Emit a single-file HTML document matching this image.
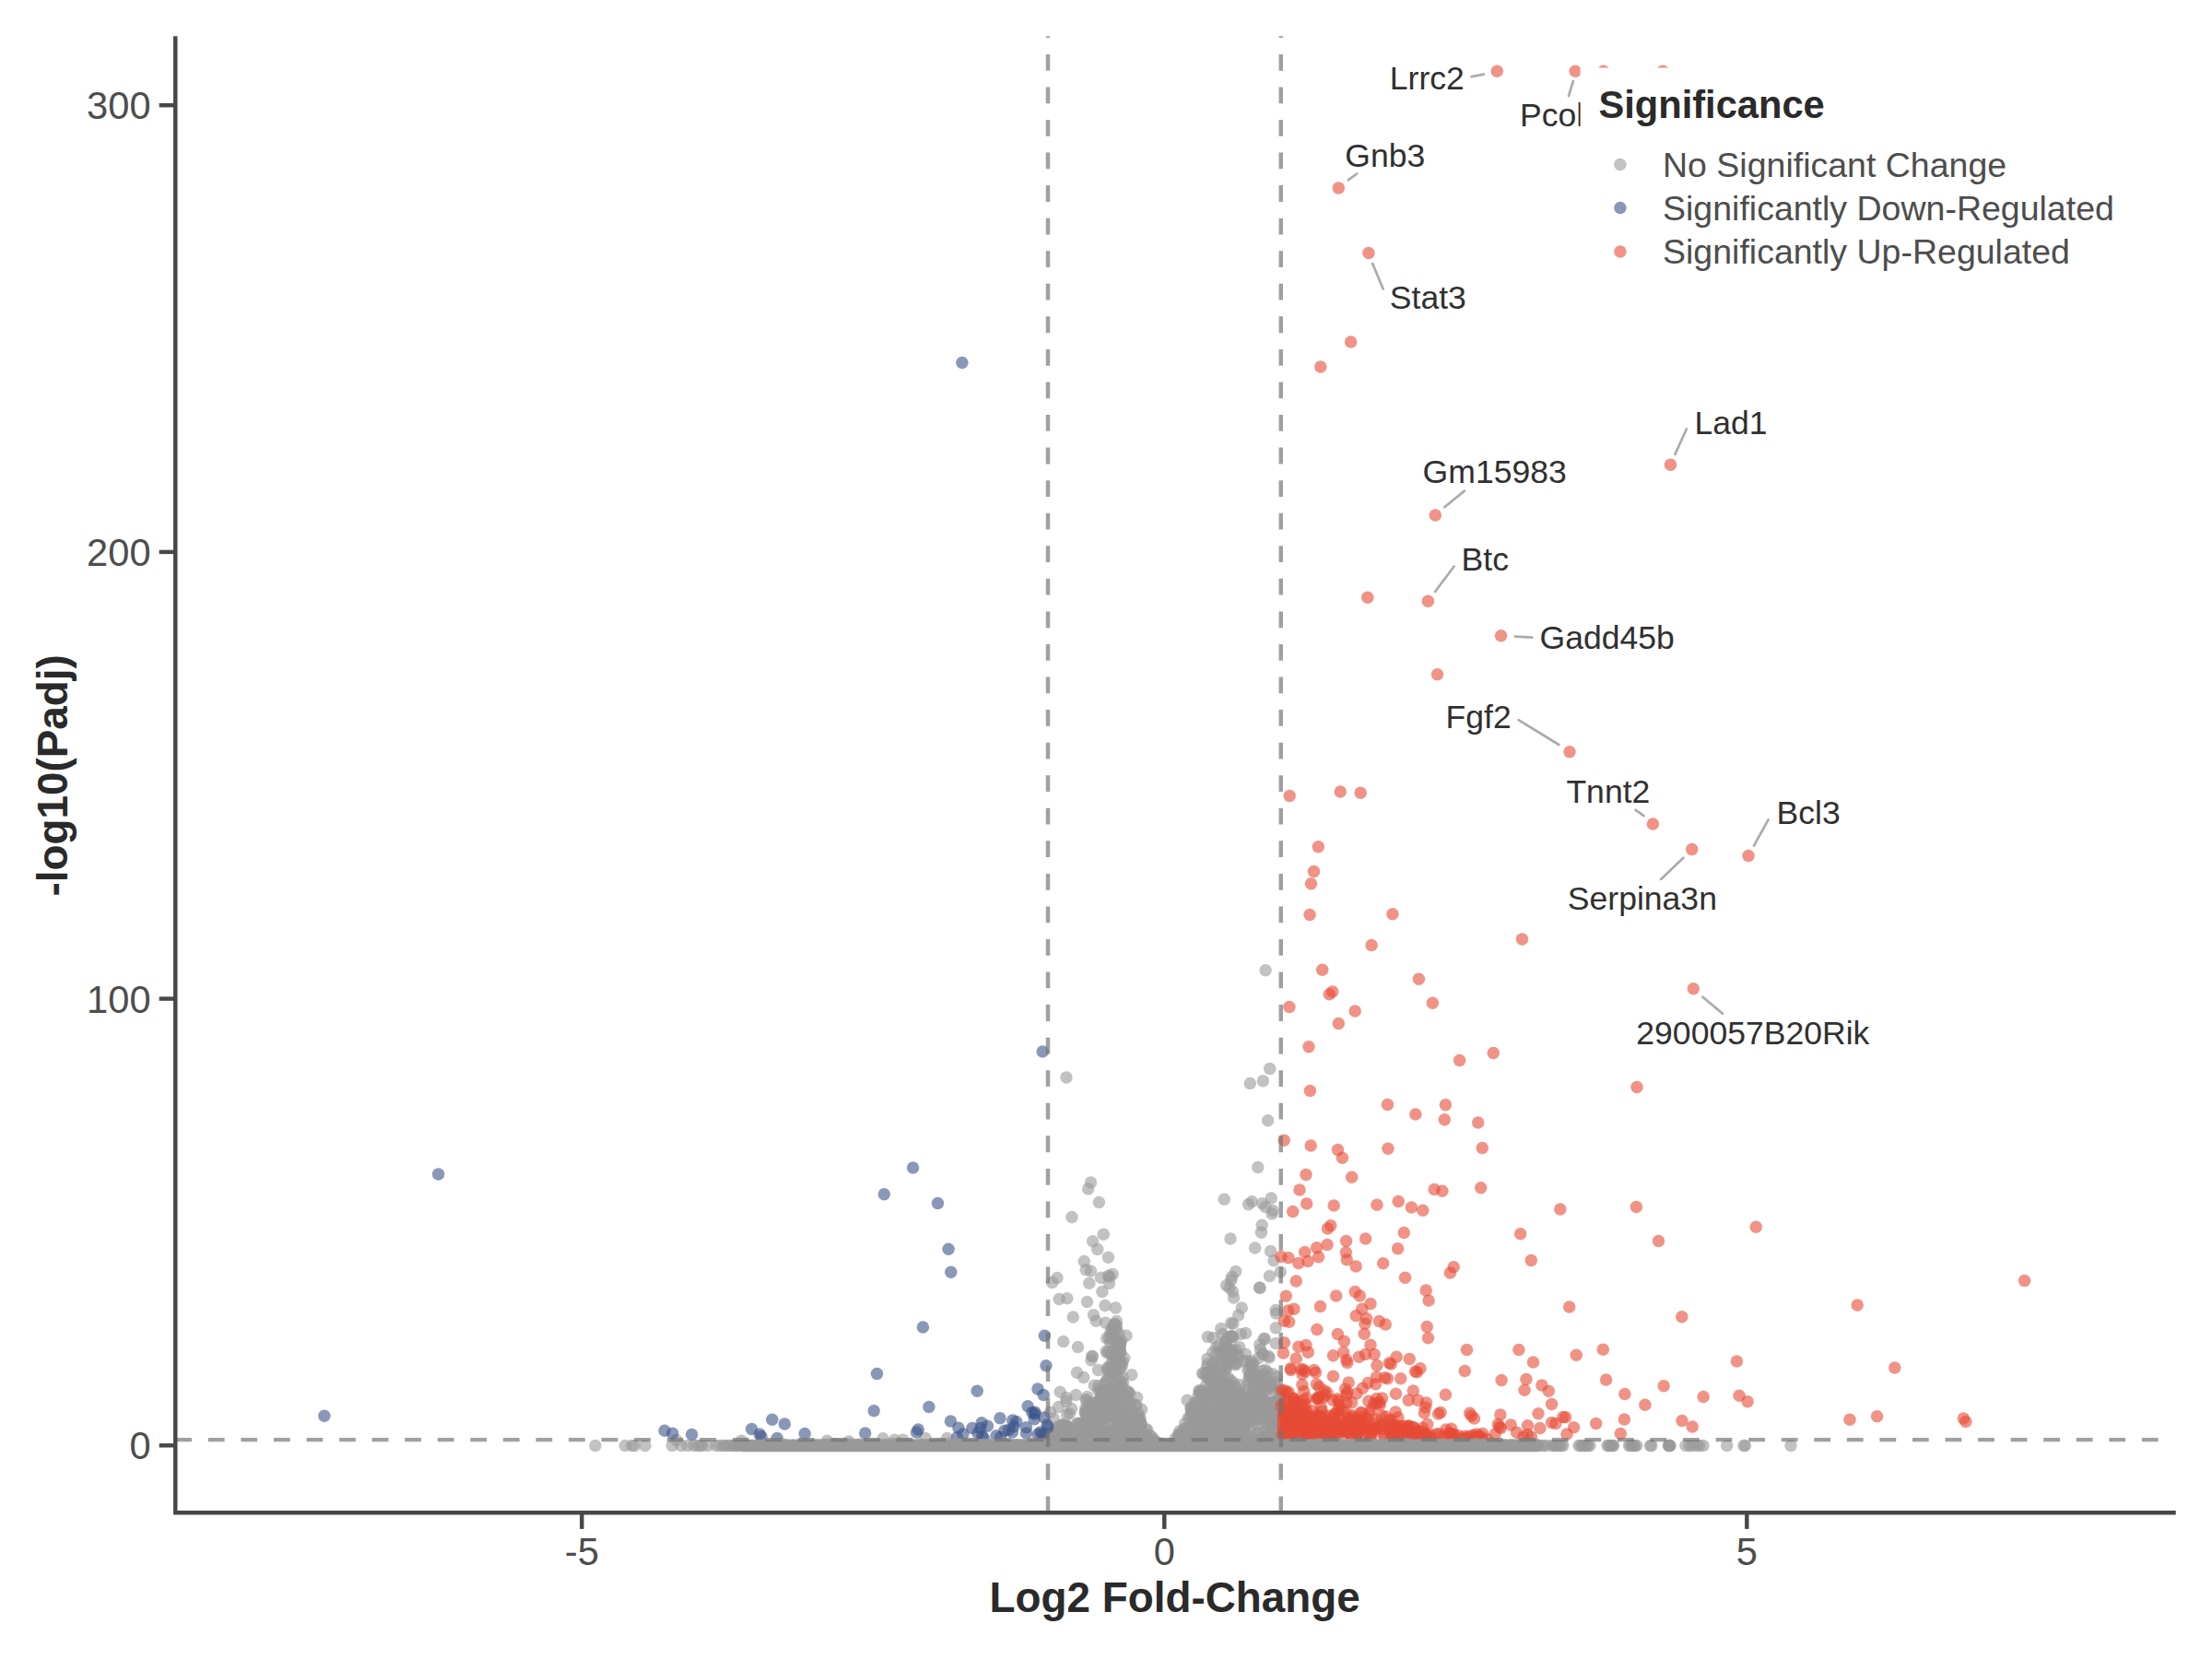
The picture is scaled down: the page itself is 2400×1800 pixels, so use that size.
<!DOCTYPE html>
<html lang="en"><head><meta charset="utf-8"><title>Volcano</title><style>
html,body{margin:0;padding:0;background:#fff}
svg{display:block}
text{font-family:"Liberation Sans",sans-serif}
circle{r:6.75px}
.g{fill:#999999;fill-opacity:.6}
.b{fill:#3C5488;fill-opacity:.6}
.r{fill:#E64B35;fill-opacity:.6}
.dl path{stroke:#737373;stroke-opacity:.68;stroke-width:4.45;stroke-dasharray:17.78 17.78;fill:none}
.seg path{stroke:#ABABAB;stroke-width:2.7;fill:none;stroke-linecap:round}
.lab text{font-size:35.57px;fill:#303030}
.lt{font-size:41.67px;font-weight:bold;fill:#2A2A2A}
.le{font-size:37.5px;fill:#4D4D4D}
.ax path{stroke:#474747;stroke-width:4.45;fill:none;stroke-linecap:butt}
.at text{font-size:41.67px;fill:#4D4D4D}
.ti{font-size:45.83px;font-weight:bold;fill:#2A2A2A}
</style></head><body><svg width="2400" height="1800" viewBox="0 0 2400 1800">
<rect width="2400" height="1800" fill="#fff"/>
<g class="g"><circle cx="1390.0" cy="1559.9" r="6.75"/><circle cx="1377.6" cy="1563.4" r="6.75"/><circle cx="1361.0" cy="1528.1" r="6.75"/><circle cx="1348.5" cy="1560.6" r="6.75"/><circle cx="1222.1" cy="1564.9" r="6.75"/><circle cx="1236.9" cy="1538.8" r="6.75"/><circle cx="1372.7" cy="1486.2" r="6.75"/><circle cx="1302.0" cy="1511.9" r="6.75"/><circle cx="1192.9" cy="1545.3" r="6.75"/><circle cx="1211.1" cy="1455.0" r="6.75"/><circle cx="645.9" cy="1568.4" r="6.75"/><circle cx="1365.6" cy="1516.9" r="6.75"/><circle cx="1189.3" cy="1433.2" r="6.75"/><circle cx="1191.3" cy="1527.0" r="6.75"/><circle cx="1343.1" cy="1528.4" r="6.75"/><circle cx="1369.8" cy="1487.4" r="6.75"/><circle cx="1217.2" cy="1547.1" r="6.75"/><circle cx="1333.8" cy="1545.2" r="6.75"/><circle cx="1317.9" cy="1510.2" r="6.75"/><circle cx="1365.2" cy="1555.2" r="6.75"/><circle cx="1232.9" cy="1547.4" r="6.75"/><circle cx="1382.0" cy="1546.1" r="6.75"/><circle cx="1334.3" cy="1524.7" r="6.75"/><circle cx="1312.6" cy="1505.8" r="6.75"/><circle cx="1237.8" cy="1546.1" r="6.75"/><circle cx="1343.6" cy="1544.1" r="6.75"/><circle cx="759.6" cy="1568.4" r="6.75"/><circle cx="1371.5" cy="1505.1" r="6.75"/><circle cx="1841.0" cy="1568.4" r="6.75"/><circle cx="1328.9" cy="1473.9" r="6.75"/><circle cx="1215.3" cy="1555.8" r="6.75"/><circle cx="1153.4" cy="1546.0" r="6.75"/><circle cx="1767.5" cy="1568.4" r="6.75"/><circle cx="1310.0" cy="1474.3" r="6.75"/><circle cx="1346.9" cy="1557.4" r="6.75"/><circle cx="1304.2" cy="1529.5" r="6.75"/><circle cx="1313.6" cy="1494.6" r="6.75"/><circle cx="1353.9" cy="1486.6" r="6.75"/><circle cx="1215.9" cy="1466.9" r="6.75"/><circle cx="1238.5" cy="1557.5" r="6.75"/><circle cx="1349.2" cy="1547.2" r="6.75"/><circle cx="1204.4" cy="1446.9" r="6.75"/><circle cx="1224.2" cy="1549.4" r="6.75"/><circle cx="1686.0" cy="1568.4" r="6.75"/><circle cx="1333.9" cy="1396.9" r="6.75"/><circle cx="1303.4" cy="1563.6" r="6.75"/><circle cx="1139.2" cy="1556.6" r="6.75"/><circle cx="1357.2" cy="1559.8" r="6.75"/><circle cx="1208.3" cy="1440.5" r="6.75"/><circle cx="1336.7" cy="1532.7" r="6.75"/><circle cx="1810.8" cy="1568.4" r="6.75"/><circle cx="1183.5" cy="1283.1" r="6.75"/><circle cx="1151.3" cy="1558.5" r="6.75"/><circle cx="1151.9" cy="1555.1" r="6.75"/><circle cx="1358.2" cy="1560.3" r="6.75"/><circle cx="1371.2" cy="1524.3" r="6.75"/><circle cx="1323.1" cy="1524.5" r="6.75"/><circle cx="1291.9" cy="1527.2" r="6.75"/><circle cx="1327.2" cy="1487.7" r="6.75"/><circle cx="1215.9" cy="1480.3" r="6.75"/><circle cx="1377.7" cy="1159.4" r="6.75"/><circle cx="1319.7" cy="1470.1" r="6.75"/><circle cx="1207.5" cy="1441.3" r="6.75"/><circle cx="1195.9" cy="1557.9" r="6.75"/><circle cx="1195.3" cy="1540.0" r="6.75"/><circle cx="1330.7" cy="1515.2" r="6.75"/><circle cx="1848.0" cy="1568.4" r="6.75"/><circle cx="1214.3" cy="1455.9" r="6.75"/><circle cx="1301.6" cy="1509.5" r="6.75"/><circle cx="1367.2" cy="1397.6" r="6.75"/><circle cx="1308.1" cy="1565.7" r="6.75"/><circle cx="1188.3" cy="1538.5" r="6.75"/><circle cx="1747.0" cy="1568.4" r="6.75"/><circle cx="1370.2" cy="1559.9" r="6.75"/><circle cx="1296.7" cy="1563.7" r="6.75"/><circle cx="1303.9" cy="1558.7" r="6.75"/><circle cx="1311.7" cy="1564.5" r="6.75"/><circle cx="1185.6" cy="1346.7" r="6.75"/><circle cx="1296.1" cy="1521.8" r="6.75"/><circle cx="1324.8" cy="1521.9" r="6.75"/><circle cx="1341.8" cy="1470.4" r="6.75"/><circle cx="1181.3" cy="1525.6" r="6.75"/><circle cx="1289.2" cy="1538.4" r="6.75"/><circle cx="1148.5" cy="1566.0" r="6.75"/><circle cx="1177.1" cy="1532.5" r="6.75"/><circle cx="1305.1" cy="1555.6" r="6.75"/><circle cx="1342.8" cy="1533.0" r="6.75"/><circle cx="1152.3" cy="1546.4" r="6.75"/><circle cx="1286.3" cy="1565.1" r="6.75"/><circle cx="1309.2" cy="1537.7" r="6.75"/><circle cx="1206.5" cy="1535.7" r="6.75"/><circle cx="1358.3" cy="1303.7" r="6.75"/><circle cx="1346.2" cy="1447.5" r="6.75"/><circle cx="1219.3" cy="1542.8" r="6.75"/><circle cx="1183.5" cy="1379.0" r="6.75"/><circle cx="1157.0" cy="1553.8" r="6.75"/><circle cx="1184.2" cy="1555.5" r="6.75"/><circle cx="1189.3" cy="1548.8" r="6.75"/><circle cx="1216.6" cy="1454.7" r="6.75"/><circle cx="1372.4" cy="1523.6" r="6.75"/><circle cx="1171.3" cy="1544.1" r="6.75"/><circle cx="1203.4" cy="1565.2" r="6.75"/><circle cx="1214.7" cy="1536.6" r="6.75"/><circle cx="1162.4" cy="1557.5" r="6.75"/><circle cx="1209.6" cy="1448.1" r="6.75"/><circle cx="1147.9" cy="1562.1" r="6.75"/><circle cx="1302.9" cy="1536.4" r="6.75"/><circle cx="1327.9" cy="1565.1" r="6.75"/><circle cx="1378.6" cy="1357.5" r="6.75"/><circle cx="1206.2" cy="1536.2" r="6.75"/><circle cx="1371.5" cy="1452.2" r="6.75"/><circle cx="1228.6" cy="1537.1" r="6.75"/><circle cx="1344.0" cy="1471.4" r="6.75"/><circle cx="1337.1" cy="1450.1" r="6.75"/><circle cx="1332.6" cy="1551.2" r="6.75"/><circle cx="1380.1" cy="1317.1" r="6.75"/><circle cx="1127.1" cy="1566.6" r="6.75"/><circle cx="1238.7" cy="1563.9" r="6.75"/><circle cx="979.7" cy="1562.3" r="6.75"/><circle cx="1208.8" cy="1517.8" r="6.75"/><circle cx="1223.5" cy="1509.6" r="6.75"/><circle cx="1205.3" cy="1480.3" r="6.75"/><circle cx="1222.0" cy="1543.5" r="6.75"/><circle cx="1334.1" cy="1464.7" r="6.75"/><circle cx="1336.5" cy="1532.1" r="6.75"/><circle cx="1178.2" cy="1377.7" r="6.75"/><circle cx="1214.6" cy="1462.1" r="6.75"/><circle cx="1366.4" cy="1512.4" r="6.75"/><circle cx="1332.3" cy="1469.8" r="6.75"/><circle cx="1177.3" cy="1563.3" r="6.75"/><circle cx="1288.7" cy="1554.9" r="6.75"/><circle cx="1303.5" cy="1533.1" r="6.75"/><circle cx="1227.2" cy="1563.6" r="6.75"/><circle cx="1359.9" cy="1495.4" r="6.75"/><circle cx="1297.6" cy="1521.7" r="6.75"/><circle cx="1343.7" cy="1426.9" r="6.75"/><circle cx="1368.5" cy="1337.2" r="6.75"/><circle cx="1328.2" cy="1537.9" r="6.75"/><circle cx="1340.8" cy="1480.8" r="6.75"/><circle cx="1169.1" cy="1544.6" r="6.75"/><circle cx="1333.8" cy="1505.0" r="6.75"/><circle cx="1168.5" cy="1489.2" r="6.75"/><circle cx="1206.5" cy="1504.2" r="6.75"/><circle cx="1178.7" cy="1534.4" r="6.75"/><circle cx="1790.5" cy="1568.4" r="6.75"/><circle cx="1318.7" cy="1515.0" r="6.75"/><circle cx="1319.0" cy="1534.4" r="6.75"/><circle cx="1191.6" cy="1486.6" r="6.75"/><circle cx="1367.8" cy="1532.2" r="6.75"/><circle cx="1373.6" cy="1564.1" r="6.75"/><circle cx="1189.3" cy="1558.8" r="6.75"/><circle cx="1322.2" cy="1555.7" r="6.75"/><circle cx="1308.8" cy="1565.7" r="6.75"/><circle cx="1211.6" cy="1475.9" r="6.75"/><circle cx="1366.1" cy="1567.6" r="6.75"/><circle cx="1385.2" cy="1555.0" r="6.75"/><circle cx="1218.0" cy="1477.3" r="6.75"/><circle cx="1352.6" cy="1539.4" r="6.75"/><circle cx="1197.5" cy="1553.7" r="6.75"/><circle cx="1337.9" cy="1436.3" r="6.75"/><circle cx="1179.5" cy="1540.5" r="6.75"/><circle cx="1381.2" cy="1529.0" r="6.75"/><circle cx="1306.3" cy="1547.9" r="6.75"/><circle cx="1217.8" cy="1542.1" r="6.75"/><circle cx="1324.2" cy="1465.3" r="6.75"/><circle cx="1203.8" cy="1561.6" r="6.75"/><circle cx="1390.2" cy="1527.0" r="6.75"/><circle cx="1368.4" cy="1508.9" r="6.75"/><circle cx="1242.4" cy="1567.2" r="6.75"/><circle cx="1346.5" cy="1566.1" r="6.75"/><circle cx="1359.3" cy="1565.2" r="6.75"/><circle cx="1278.8" cy="1559.2" r="6.75"/><circle cx="1306.7" cy="1558.9" r="6.75"/><circle cx="1226.5" cy="1523.8" r="6.75"/><circle cx="1305.9" cy="1519.8" r="6.75"/><circle cx="1217.7" cy="1532.0" r="6.75"/><circle cx="1214.8" cy="1466.1" r="6.75"/><circle cx="1357.0" cy="1529.9" r="6.75"/><circle cx="1341.1" cy="1479.1" r="6.75"/><circle cx="1185.6" cy="1528.3" r="6.75"/><circle cx="1348.4" cy="1553.6" r="6.75"/><circle cx="1375.2" cy="1503.3" r="6.75"/><circle cx="1376.4" cy="1499.9" r="6.75"/><circle cx="1208.8" cy="1437.2" r="6.75"/><circle cx="1199.0" cy="1416.6" r="6.75"/><circle cx="1335.0" cy="1344.0" r="6.75"/><circle cx="1200.1" cy="1533.7" r="6.75"/><circle cx="804.3" cy="1563.2" r="6.75"/><circle cx="1207.8" cy="1518.5" r="6.75"/><circle cx="1169.5" cy="1461.6" r="6.75"/><circle cx="1224.1" cy="1539.6" r="6.75"/><circle cx="1316.0" cy="1491.2" r="6.75"/><circle cx="1218.1" cy="1493.9" r="6.75"/><circle cx="1275.0" cy="1561.1" r="6.75"/><circle cx="1312.7" cy="1560.9" r="6.75"/><circle cx="1383.3" cy="1537.3" r="6.75"/><circle cx="1203.5" cy="1452.3" r="6.75"/><circle cx="1338.1" cy="1500.5" r="6.75"/><circle cx="1212.1" cy="1558.4" r="6.75"/><circle cx="1214.5" cy="1546.8" r="6.75"/><circle cx="1188.3" cy="1528.8" r="6.75"/><circle cx="1317.1" cy="1520.6" r="6.75"/><circle cx="1325.9" cy="1532.2" r="6.75"/><circle cx="1344.8" cy="1554.0" r="6.75"/><circle cx="1323.6" cy="1548.3" r="6.75"/><circle cx="1355.8" cy="1544.7" r="6.75"/><circle cx="1336.9" cy="1542.5" r="6.75"/><circle cx="1388.5" cy="1556.2" r="6.75"/><circle cx="1310.4" cy="1450.4" r="6.75"/><circle cx="1351.1" cy="1547.7" r="6.75"/><circle cx="1178.9" cy="1529.1" r="6.75"/><circle cx="1208.4" cy="1509.7" r="6.75"/><circle cx="1362.3" cy="1517.9" r="6.75"/><circle cx="1173.8" cy="1560.0" r="6.75"/><circle cx="1334.2" cy="1468.4" r="6.75"/><circle cx="1226.5" cy="1557.2" r="6.75"/><circle cx="1192.0" cy="1503.4" r="6.75"/><circle cx="1312.2" cy="1544.8" r="6.75"/><circle cx="1893.4" cy="1568.4" r="6.75"/><circle cx="1321.2" cy="1510.6" r="6.75"/><circle cx="1372.3" cy="1519.5" r="6.75"/><circle cx="1353.5" cy="1508.2" r="6.75"/><circle cx="1174.2" cy="1556.0" r="6.75"/><circle cx="1377.0" cy="1556.0" r="6.75"/><circle cx="1774.0" cy="1568.4" r="6.75"/><circle cx="1292.9" cy="1532.8" r="6.75"/><circle cx="1330.1" cy="1461.7" r="6.75"/><circle cx="1134.3" cy="1559.2" r="6.75"/><circle cx="1191.1" cy="1562.8" r="6.75"/><circle cx="1134.1" cy="1563.0" r="6.75"/><circle cx="1358.9" cy="1485.8" r="6.75"/><circle cx="1165.7" cy="1558.9" r="6.75"/><circle cx="1161.8" cy="1567.4" r="6.75"/><circle cx="1332.6" cy="1495.1" r="6.75"/><circle cx="1147.5" cy="1558.7" r="6.75"/><circle cx="1306.8" cy="1513.9" r="6.75"/><circle cx="1375.2" cy="1488.8" r="6.75"/><circle cx="1146.3" cy="1555.8" r="6.75"/><circle cx="1224.9" cy="1545.0" r="6.75"/><circle cx="1215.2" cy="1460.5" r="6.75"/><circle cx="1330.4" cy="1485.2" r="6.75"/><circle cx="1323.4" cy="1520.7" r="6.75"/><circle cx="1306.6" cy="1533.7" r="6.75"/><circle cx="1725.0" cy="1568.4" r="6.75"/><circle cx="1187.2" cy="1528.2" r="6.75"/><circle cx="1177.7" cy="1532.2" r="6.75"/><circle cx="1306.8" cy="1526.8" r="6.75"/><circle cx="1230.0" cy="1534.1" r="6.75"/><circle cx="897.4" cy="1563.2" r="6.75"/><circle cx="1282.8" cy="1567.4" r="6.75"/><circle cx="1154.8" cy="1564.9" r="6.75"/><circle cx="1144.8" cy="1561.1" r="6.75"/><circle cx="1205.7" cy="1452.3" r="6.75"/><circle cx="1371.5" cy="1529.4" r="6.75"/><circle cx="1336.4" cy="1527.5" r="6.75"/><circle cx="1352.5" cy="1541.5" r="6.75"/><circle cx="1212.3" cy="1466.8" r="6.75"/><circle cx="1309.0" cy="1489.6" r="6.75"/><circle cx="1330.6" cy="1565.1" r="6.75"/><circle cx="1306.0" cy="1554.0" r="6.75"/><circle cx="1167.4" cy="1513.4" r="6.75"/><circle cx="1214.1" cy="1447.1" r="6.75"/><circle cx="1334.8" cy="1503.8" r="6.75"/><circle cx="1226.0" cy="1566.3" r="6.75"/><circle cx="1715.0" cy="1568.4" r="6.75"/><circle cx="1310.1" cy="1547.3" r="6.75"/><circle cx="1206.7" cy="1506.9" r="6.75"/><circle cx="1236.5" cy="1538.9" r="6.75"/><circle cx="1148.4" cy="1553.1" r="6.75"/><circle cx="1351.2" cy="1544.0" r="6.75"/><circle cx="1128.4" cy="1567.0" r="6.75"/><circle cx="1168.5" cy="1544.9" r="6.75"/><circle cx="1210.4" cy="1419.0" r="6.75"/><circle cx="1281.6" cy="1565.5" r="6.75"/><circle cx="1153.8" cy="1558.5" r="6.75"/><circle cx="1205.9" cy="1441.3" r="6.75"/><circle cx="1213.9" cy="1493.9" r="6.75"/><circle cx="1210.6" cy="1551.4" r="6.75"/><circle cx="1244.0" cy="1565.3" r="6.75"/><circle cx="1212.7" cy="1460.3" r="6.75"/><circle cx="1312.1" cy="1541.9" r="6.75"/><circle cx="1342.0" cy="1507.2" r="6.75"/><circle cx="1390.7" cy="1512.7" r="6.75"/><circle cx="1334.2" cy="1549.9" r="6.75"/><circle cx="1303.0" cy="1553.8" r="6.75"/><circle cx="1385.2" cy="1559.5" r="6.75"/><circle cx="1297.9" cy="1526.0" r="6.75"/><circle cx="1349.1" cy="1512.3" r="6.75"/><circle cx="1336.8" cy="1385.3" r="6.75"/><circle cx="1383.3" cy="1520.9" r="6.75"/><circle cx="1223.1" cy="1555.0" r="6.75"/><circle cx="1326.3" cy="1447.5" r="6.75"/><circle cx="1692.0" cy="1568.4" r="6.75"/><circle cx="1357.8" cy="1476.7" r="6.75"/><circle cx="1238.6" cy="1553.1" r="6.75"/><circle cx="1183.3" cy="1540.3" r="6.75"/><circle cx="1204.9" cy="1562.8" r="6.75"/><circle cx="1355.0" cy="1557.4" r="6.75"/><circle cx="1331.3" cy="1553.2" r="6.75"/><circle cx="1326.2" cy="1484.4" r="6.75"/><circle cx="1388.4" cy="1553.0" r="6.75"/><circle cx="1386.0" cy="1553.6" r="6.75"/><circle cx="688.5" cy="1568.4" r="6.75"/><circle cx="1279.1" cy="1558.0" r="6.75"/><circle cx="1721.0" cy="1568.4" r="6.75"/><circle cx="1335.7" cy="1498.0" r="6.75"/><circle cx="1236.1" cy="1549.8" r="6.75"/><circle cx="1244.7" cy="1551.1" r="6.75"/><circle cx="1388.5" cy="1531.4" r="6.75"/><circle cx="1199.0" cy="1565.2" r="6.75"/><circle cx="1390.5" cy="1543.4" r="6.75"/><circle cx="1194.5" cy="1386.2" r="6.75"/><circle cx="1349.3" cy="1522.6" r="6.75"/><circle cx="1344.8" cy="1461.7" r="6.75"/><circle cx="1229.7" cy="1541.9" r="6.75"/><circle cx="1363.7" cy="1529.6" r="6.75"/><circle cx="685.8" cy="1568.4" r="6.75"/><circle cx="1211.5" cy="1540.6" r="6.75"/><circle cx="1355.9" cy="1492.5" r="6.75"/><circle cx="1172.5" cy="1544.9" r="6.75"/><circle cx="1210.7" cy="1460.1" r="6.75"/><circle cx="1378.0" cy="1504.5" r="6.75"/><circle cx="1368.3" cy="1560.6" r="6.75"/><circle cx="1354.2" cy="1535.8" r="6.75"/><circle cx="1338.6" cy="1408.1" r="6.75"/><circle cx="1385.7" cy="1493.9" r="6.75"/><circle cx="1197.2" cy="1552.5" r="6.75"/><circle cx="1238.4" cy="1564.6" r="6.75"/><circle cx="1196.1" cy="1520.5" r="6.75"/><circle cx="1892.0" cy="1568.4" r="6.75"/><circle cx="1350.5" cy="1520.7" r="6.75"/><circle cx="1343.5" cy="1520.8" r="6.75"/><circle cx="1297.5" cy="1542.4" r="6.75"/><circle cx="1234.7" cy="1539.5" r="6.75"/><circle cx="1292.9" cy="1526.7" r="6.75"/><circle cx="1372.9" cy="1309.4" r="6.75"/><circle cx="1330.6" cy="1394.7" r="6.75"/><circle cx="1301.7" cy="1551.1" r="6.75"/><circle cx="1330.7" cy="1483.8" r="6.75"/><circle cx="1208.2" cy="1489.4" r="6.75"/><circle cx="1321.2" cy="1561.1" r="6.75"/><circle cx="1378.0" cy="1501.3" r="6.75"/><circle cx="1201.1" cy="1566.4" r="6.75"/><circle cx="1315.0" cy="1544.3" r="6.75"/><circle cx="1222.0" cy="1449.3" r="6.75"/><circle cx="1313.6" cy="1518.2" r="6.75"/><circle cx="1213.8" cy="1485.5" r="6.75"/><circle cx="1343.9" cy="1539.3" r="6.75"/><circle cx="1223.9" cy="1557.3" r="6.75"/><circle cx="1315.7" cy="1552.2" r="6.75"/><circle cx="1200.7" cy="1522.5" r="6.75"/><circle cx="1195.0" cy="1517.0" r="6.75"/><circle cx="1323.9" cy="1519.8" r="6.75"/><circle cx="1317.8" cy="1477.7" r="6.75"/><circle cx="1355.6" cy="1541.4" r="6.75"/><circle cx="1310.4" cy="1480.3" r="6.75"/><circle cx="1366.4" cy="1396.9" r="6.75"/><circle cx="1337.1" cy="1524.6" r="6.75"/><circle cx="1376.4" cy="1507.4" r="6.75"/><circle cx="1285.3" cy="1554.1" r="6.75"/><circle cx="1211.0" cy="1539.4" r="6.75"/><circle cx="1197.3" cy="1339.2" r="6.75"/><circle cx="1322.1" cy="1520.9" r="6.75"/><circle cx="1361.8" cy="1515.6" r="6.75"/><circle cx="1235.3" cy="1533.6" r="6.75"/><circle cx="1153.3" cy="1567.2" r="6.75"/><circle cx="1367.5" cy="1464.2" r="6.75"/><circle cx="1195.4" cy="1562.9" r="6.75"/><circle cx="1375.5" cy="1544.6" r="6.75"/><circle cx="1381.4" cy="1491.0" r="6.75"/><circle cx="1300.0" cy="1514.4" r="6.75"/><circle cx="1326.1" cy="1556.8" r="6.75"/><circle cx="1354.6" cy="1306.7" r="6.75"/><circle cx="1348.1" cy="1477.1" r="6.75"/><circle cx="1208.2" cy="1551.1" r="6.75"/><circle cx="1184.1" cy="1559.2" r="6.75"/><circle cx="1328.5" cy="1492.9" r="6.75"/><circle cx="1178.2" cy="1518.8" r="6.75"/><circle cx="1344.9" cy="1512.0" r="6.75"/><circle cx="1230.0" cy="1551.0" r="6.75"/><circle cx="1833.0" cy="1568.4" r="6.75"/><circle cx="1309.6" cy="1512.5" r="6.75"/><circle cx="1177.8" cy="1527.9" r="6.75"/><circle cx="1232.2" cy="1541.5" r="6.75"/><circle cx="1209.1" cy="1451.3" r="6.75"/><circle cx="1218.6" cy="1500.5" r="6.75"/><circle cx="1280.3" cy="1558.7" r="6.75"/><circle cx="1356.5" cy="1566.7" r="6.75"/><circle cx="1330.5" cy="1454.7" r="6.75"/><circle cx="1299.1" cy="1559.0" r="6.75"/><circle cx="1150.5" cy="1563.2" r="6.75"/><circle cx="1163.0" cy="1320.6" r="6.75"/><circle cx="1332.4" cy="1518.0" r="6.75"/><circle cx="1229.9" cy="1554.4" r="6.75"/><circle cx="1285.7" cy="1544.4" r="6.75"/><circle cx="1347.8" cy="1519.2" r="6.75"/><circle cx="1179.5" cy="1535.6" r="6.75"/><circle cx="1355.5" cy="1493.8" r="6.75"/><circle cx="1304.8" cy="1558.7" r="6.75"/><circle cx="1344.6" cy="1518.4" r="6.75"/><circle cx="1155.1" cy="1564.6" r="6.75"/><circle cx="1185.8" cy="1555.9" r="6.75"/><circle cx="1343.6" cy="1514.3" r="6.75"/><circle cx="1370.3" cy="1542.8" r="6.75"/><circle cx="1829.0" cy="1568.4" r="6.75"/><circle cx="1295.4" cy="1557.7" r="6.75"/><circle cx="1343.8" cy="1512.3" r="6.75"/><circle cx="1690.0" cy="1568.4" r="6.75"/><circle cx="1207.7" cy="1481.4" r="6.75"/><circle cx="1192.0" cy="1543.5" r="6.75"/><circle cx="1315.5" cy="1482.9" r="6.75"/><circle cx="1302.8" cy="1511.2" r="6.75"/><circle cx="1215.7" cy="1513.5" r="6.75"/><circle cx="1310.7" cy="1511.2" r="6.75"/><circle cx="1232.2" cy="1524.8" r="6.75"/><circle cx="1336.4" cy="1450.4" r="6.75"/><circle cx="1313.9" cy="1493.5" r="6.75"/><circle cx="1333.3" cy="1525.0" r="6.75"/><circle cx="1372.8" cy="1520.3" r="6.75"/><circle cx="1243.5" cy="1556.7" r="6.75"/><circle cx="1318.2" cy="1542.4" r="6.75"/><circle cx="1333.7" cy="1529.1" r="6.75"/><circle cx="1227.5" cy="1542.7" r="6.75"/><circle cx="1250.1" cy="1566.8" r="6.75"/><circle cx="1199.2" cy="1501.1" r="6.75"/><circle cx="1204.7" cy="1456.2" r="6.75"/><circle cx="1206.0" cy="1488.4" r="6.75"/><circle cx="1347.7" cy="1523.5" r="6.75"/><circle cx="1347.1" cy="1525.4" r="6.75"/><circle cx="1378.8" cy="1547.7" r="6.75"/><circle cx="1350.0" cy="1539.3" r="6.75"/><circle cx="746.0" cy="1568.4" r="6.75"/><circle cx="1374.2" cy="1493.9" r="6.75"/><circle cx="1384.6" cy="1499.9" r="6.75"/><circle cx="1717.0" cy="1568.4" r="6.75"/><circle cx="1675.0" cy="1568.4" r="6.75"/><circle cx="1379.3" cy="1300.1" r="6.75"/><circle cx="1372.1" cy="1508.8" r="6.75"/><circle cx="1384.2" cy="1457.6" r="6.75"/><circle cx="1210.5" cy="1483.0" r="6.75"/><circle cx="1321.6" cy="1533.5" r="6.75"/><circle cx="1388.8" cy="1517.0" r="6.75"/><circle cx="1302.4" cy="1544.7" r="6.75"/><circle cx="1389.6" cy="1528.5" r="6.75"/><circle cx="1366.8" cy="1529.0" r="6.75"/><circle cx="1251.0" cy="1562.2" r="6.75"/><circle cx="1303.8" cy="1535.0" r="6.75"/><circle cx="1202.5" cy="1384.2" r="6.75"/><circle cx="1191.6" cy="1543.2" r="6.75"/><circle cx="1320.8" cy="1527.7" r="6.75"/><circle cx="1180.6" cy="1290.0" r="6.75"/><circle cx="1231.4" cy="1539.9" r="6.75"/><circle cx="1220.8" cy="1552.5" r="6.75"/><circle cx="1307.5" cy="1529.1" r="6.75"/><circle cx="1234.5" cy="1534.5" r="6.75"/><circle cx="1222.0" cy="1530.7" r="6.75"/><circle cx="1291.4" cy="1538.2" r="6.75"/><circle cx="1224.3" cy="1511.6" r="6.75"/><circle cx="1313.7" cy="1543.6" r="6.75"/><circle cx="678.2" cy="1568.4" r="6.75"/><circle cx="1386.1" cy="1502.1" r="6.75"/><circle cx="1378.5" cy="1504.7" r="6.75"/><circle cx="1365.5" cy="1540.0" r="6.75"/><circle cx="1355.1" cy="1519.1" r="6.75"/><circle cx="1181.8" cy="1392.3" r="6.75"/><circle cx="1351.5" cy="1526.2" r="6.75"/><circle cx="1192.4" cy="1304.6" r="6.75"/><circle cx="1325.6" cy="1524.7" r="6.75"/><circle cx="1381.1" cy="1313.4" r="6.75"/><circle cx="1295.6" cy="1544.8" r="6.75"/><circle cx="1371.1" cy="1491.8" r="6.75"/><circle cx="1369.4" cy="1496.9" r="6.75"/><circle cx="1369.6" cy="1305.7" r="6.75"/><circle cx="1383.4" cy="1555.8" r="6.75"/><circle cx="1314.0" cy="1558.6" r="6.75"/><circle cx="1156.9" cy="1520.6" r="6.75"/><circle cx="1221.7" cy="1558.5" r="6.75"/><circle cx="1196.9" cy="1560.3" r="6.75"/><circle cx="1150.2" cy="1546.9" r="6.75"/><circle cx="1342.3" cy="1550.0" r="6.75"/><circle cx="1374.5" cy="1565.5" r="6.75"/><circle cx="1186.2" cy="1530.7" r="6.75"/><circle cx="1200.4" cy="1465.9" r="6.75"/><circle cx="1200.3" cy="1537.3" r="6.75"/><circle cx="1744.0" cy="1568.4" r="6.75"/><circle cx="1341.0" cy="1511.9" r="6.75"/><circle cx="1236.8" cy="1564.5" r="6.75"/><circle cx="1219.8" cy="1473.6" r="6.75"/><circle cx="1303.3" cy="1546.9" r="6.75"/><circle cx="1184.7" cy="1471.4" r="6.75"/><circle cx="1292.2" cy="1559.4" r="6.75"/><circle cx="1224.3" cy="1566.7" r="6.75"/><circle cx="1182.6" cy="1563.7" r="6.75"/><circle cx="1149.8" cy="1558.0" r="6.75"/><circle cx="1288.1" cy="1519.2" r="6.75"/><circle cx="1227.8" cy="1491.7" r="6.75"/><circle cx="1696.0" cy="1568.4" r="6.75"/><circle cx="739.2" cy="1568.4" r="6.75"/><circle cx="1360.1" cy="1566.5" r="6.75"/><circle cx="1324.2" cy="1501.1" r="6.75"/><circle cx="1209.7" cy="1436.6" r="6.75"/><circle cx="1341.0" cy="1536.6" r="6.75"/><circle cx="1200.7" cy="1452.0" r="6.75"/><circle cx="1383.0" cy="1538.0" r="6.75"/><circle cx="1321.6" cy="1545.2" r="6.75"/><circle cx="1217.4" cy="1541.6" r="6.75"/><circle cx="1241.3" cy="1558.8" r="6.75"/><circle cx="1342.8" cy="1524.9" r="6.75"/><circle cx="1331.3" cy="1552.3" r="6.75"/><circle cx="1179.5" cy="1412.4" r="6.75"/><circle cx="1171.5" cy="1564.3" r="6.75"/><circle cx="1376.9" cy="1531.0" r="6.75"/><circle cx="1299.0" cy="1566.9" r="6.75"/><circle cx="1193.3" cy="1542.2" r="6.75"/><circle cx="1152.5" cy="1545.8" r="6.75"/><circle cx="1213.4" cy="1476.0" r="6.75"/><circle cx="1330.3" cy="1462.7" r="6.75"/><circle cx="1288.1" cy="1549.5" r="6.75"/><circle cx="1312.6" cy="1563.6" r="6.75"/><circle cx="1205.8" cy="1469.4" r="6.75"/><circle cx="1329.7" cy="1537.1" r="6.75"/><circle cx="1382.0" cy="1367.7" r="6.75"/><circle cx="1315.8" cy="1502.1" r="6.75"/><circle cx="1193.7" cy="1534.0" r="6.75"/><circle cx="1943.0" cy="1568.4" r="6.75"/><circle cx="1260.0" cy="1566.6" r="6.75"/><circle cx="1201.4" cy="1496.0" r="6.75"/><circle cx="1157.6" cy="1535.1" r="6.75"/><circle cx="1214.3" cy="1561.3" r="6.75"/><circle cx="1221.0" cy="1527.6" r="6.75"/><circle cx="1338.0" cy="1513.9" r="6.75"/><circle cx="1355.6" cy="1485.6" r="6.75"/><circle cx="1344.8" cy="1502.4" r="6.75"/><circle cx="1321.7" cy="1501.4" r="6.75"/><circle cx="1243.3" cy="1559.6" r="6.75"/><circle cx="1379.8" cy="1559.2" r="6.75"/><circle cx="1149.1" cy="1565.1" r="6.75"/><circle cx="1209.5" cy="1470.5" r="6.75"/><circle cx="1322.1" cy="1553.5" r="6.75"/><circle cx="1380.5" cy="1525.3" r="6.75"/><circle cx="1278.2" cy="1557.1" r="6.75"/><circle cx="1304.4" cy="1508.9" r="6.75"/><circle cx="1279.6" cy="1566.4" r="6.75"/><circle cx="1233.6" cy="1516.3" r="6.75"/><circle cx="1314.6" cy="1486.3" r="6.75"/><circle cx="1164.3" cy="1429.1" r="6.75"/><circle cx="1191.4" cy="1525.5" r="6.75"/><circle cx="1384.2" cy="1440.7" r="6.75"/><circle cx="1230.8" cy="1537.7" r="6.75"/><circle cx="1362.0" cy="1490.9" r="6.75"/><circle cx="1323.2" cy="1479.3" r="6.75"/><circle cx="1199.5" cy="1557.3" r="6.75"/><circle cx="1372.2" cy="1452.9" r="6.75"/><circle cx="1332.7" cy="1567.5" r="6.75"/><circle cx="1202.2" cy="1496.0" r="6.75"/><circle cx="1334.9" cy="1527.4" r="6.75"/><circle cx="1185.8" cy="1557.9" r="6.75"/><circle cx="1376.2" cy="1471.4" r="6.75"/><circle cx="1215.8" cy="1477.9" r="6.75"/><circle cx="1365.5" cy="1473.6" r="6.75"/><circle cx="1146.6" cy="1549.7" r="6.75"/><circle cx="1326.1" cy="1499.3" r="6.75"/><circle cx="1214.5" cy="1503.7" r="6.75"/><circle cx="1353.1" cy="1567.6" r="6.75"/><circle cx="970.7" cy="1562.3" r="6.75"/><circle cx="1389.2" cy="1379.9" r="6.75"/><circle cx="1361.7" cy="1353.9" r="6.75"/><circle cx="1379.3" cy="1502.6" r="6.75"/><circle cx="1195.9" cy="1401.4" r="6.75"/><circle cx="1233.1" cy="1524.8" r="6.75"/><circle cx="1238.6" cy="1529.3" r="6.75"/><circle cx="1336.7" cy="1540.6" r="6.75"/><circle cx="1201.5" cy="1468.0" r="6.75"/><circle cx="1325.8" cy="1534.8" r="6.75"/><circle cx="1210.1" cy="1491.4" r="6.75"/><circle cx="1183.8" cy="1561.7" r="6.75"/><circle cx="1324.7" cy="1497.7" r="6.75"/><circle cx="1202.5" cy="1364.3" r="6.75"/><circle cx="1363.0" cy="1526.3" r="6.75"/><circle cx="1387.1" cy="1529.7" r="6.75"/><circle cx="1377.5" cy="1384.4" r="6.75"/><circle cx="1368.2" cy="1521.7" r="6.75"/><circle cx="1196.6" cy="1539.4" r="6.75"/><circle cx="1217.3" cy="1538.8" r="6.75"/><circle cx="1386.0" cy="1555.9" r="6.75"/><circle cx="1329.8" cy="1457.3" r="6.75"/><circle cx="1305.0" cy="1564.7" r="6.75"/><circle cx="1316.1" cy="1487.1" r="6.75"/><circle cx="699.9" cy="1568.4" r="6.75"/><circle cx="1189.8" cy="1565.6" r="6.75"/><circle cx="1222.1" cy="1552.1" r="6.75"/><circle cx="1207.9" cy="1466.0" r="6.75"/><circle cx="1211.5" cy="1438.6" r="6.75"/><circle cx="1354.4" cy="1502.6" r="6.75"/><circle cx="1218.2" cy="1551.9" r="6.75"/><circle cx="1383.9" cy="1529.0" r="6.75"/><circle cx="1169.0" cy="1558.7" r="6.75"/><circle cx="1209.4" cy="1546.6" r="6.75"/><circle cx="1337.9" cy="1451.1" r="6.75"/><circle cx="1218.8" cy="1562.1" r="6.75"/><circle cx="1688.0" cy="1568.4" r="6.75"/><circle cx="1225.8" cy="1561.5" r="6.75"/><circle cx="1320.7" cy="1561.3" r="6.75"/><circle cx="1196.5" cy="1552.0" r="6.75"/><circle cx="1349.7" cy="1516.8" r="6.75"/><circle cx="1873.7" cy="1568.4" r="6.75"/><circle cx="1315.1" cy="1496.8" r="6.75"/><circle cx="1294.3" cy="1552.9" r="6.75"/><circle cx="1280.4" cy="1555.2" r="6.75"/><circle cx="1376.2" cy="1521.8" r="6.75"/><circle cx="1297.3" cy="1567.2" r="6.75"/><circle cx="1223.7" cy="1563.0" r="6.75"/><circle cx="1375.9" cy="1564.8" r="6.75"/><circle cx="1347.0" cy="1562.5" r="6.75"/><circle cx="1329.3" cy="1510.1" r="6.75"/><circle cx="1333.3" cy="1530.2" r="6.75"/><circle cx="1261.6" cy="1566.6" r="6.75"/><circle cx="1340.6" cy="1504.6" r="6.75"/><circle cx="1181.9" cy="1550.9" r="6.75"/><circle cx="1244.1" cy="1558.3" r="6.75"/><circle cx="1333.2" cy="1550.6" r="6.75"/><circle cx="1158.6" cy="1547.6" r="6.75"/><circle cx="1369.2" cy="1329.3" r="6.75"/><circle cx="1157.8" cy="1408.7" r="6.75"/><circle cx="1203.9" cy="1385.3" r="6.75"/><circle cx="1308.8" cy="1568.0" r="6.75"/><circle cx="1235.0" cy="1553.6" r="6.75"/><circle cx="1318.9" cy="1481.1" r="6.75"/><circle cx="1384.5" cy="1425.1" r="6.75"/><circle cx="1314.6" cy="1537.1" r="6.75"/><circle cx="1331.0" cy="1527.7" r="6.75"/><circle cx="1204.7" cy="1508.0" r="6.75"/><circle cx="1350.0" cy="1558.2" r="6.75"/><circle cx="1370.4" cy="1172.7" r="6.75"/><circle cx="1202.0" cy="1536.8" r="6.75"/><circle cx="1348.4" cy="1542.3" r="6.75"/><circle cx="1297.2" cy="1566.1" r="6.75"/><circle cx="1304.6" cy="1489.9" r="6.75"/><circle cx="1230.6" cy="1560.5" r="6.75"/><circle cx="1199.6" cy="1435.2" r="6.75"/><circle cx="1292.8" cy="1531.0" r="6.75"/><circle cx="1156.7" cy="1547.7" r="6.75"/><circle cx="1202.7" cy="1519.5" r="6.75"/><circle cx="1350.6" cy="1542.8" r="6.75"/><circle cx="1308.6" cy="1563.7" r="6.75"/><circle cx="1370.0" cy="1505.0" r="6.75"/><circle cx="1130.8" cy="1566.9" r="6.75"/><circle cx="1352.4" cy="1476.6" r="6.75"/><circle cx="1375.1" cy="1504.3" r="6.75"/><circle cx="1388.5" cy="1557.2" r="6.75"/><circle cx="1334.8" cy="1546.3" r="6.75"/><circle cx="1206.8" cy="1516.7" r="6.75"/><circle cx="1295.6" cy="1562.2" r="6.75"/><circle cx="1369.2" cy="1500.9" r="6.75"/><circle cx="1324.3" cy="1511.9" r="6.75"/><circle cx="1189.8" cy="1539.6" r="6.75"/><circle cx="1750.0" cy="1568.4" r="6.75"/><circle cx="1358.1" cy="1481.4" r="6.75"/><circle cx="1335.6" cy="1509.0" r="6.75"/><circle cx="1181.7" cy="1544.2" r="6.75"/><circle cx="1215.5" cy="1459.7" r="6.75"/><circle cx="1192.4" cy="1519.1" r="6.75"/><circle cx="1347.3" cy="1519.9" r="6.75"/><circle cx="1371.7" cy="1504.6" r="6.75"/><circle cx="1377.1" cy="1472.9" r="6.75"/><circle cx="1207.2" cy="1382.4" r="6.75"/><circle cx="1335.7" cy="1449.6" r="6.75"/><circle cx="1212.3" cy="1547.7" r="6.75"/><circle cx="1187.5" cy="1540.9" r="6.75"/><circle cx="1327.6" cy="1516.4" r="6.75"/><circle cx="1316.0" cy="1480.4" r="6.75"/><circle cx="1147.0" cy="1386.4" r="6.75"/><circle cx="1364.8" cy="1266.4" r="6.75"/><circle cx="1167.7" cy="1554.2" r="6.75"/><circle cx="1328.3" cy="1301.2" r="6.75"/><circle cx="1251.7" cy="1562.3" r="6.75"/><circle cx="1376.4" cy="1539.1" r="6.75"/><circle cx="1301.4" cy="1522.9" r="6.75"/><circle cx="1320.0" cy="1523.5" r="6.75"/><circle cx="1347.8" cy="1529.9" r="6.75"/><circle cx="1209.3" cy="1564.3" r="6.75"/><circle cx="1380.8" cy="1554.6" r="6.75"/><circle cx="1217.6" cy="1481.6" r="6.75"/><circle cx="1316.7" cy="1556.0" r="6.75"/><circle cx="1359.3" cy="1523.0" r="6.75"/><circle cx="1203.5" cy="1392.5" r="6.75"/><circle cx="1201.1" cy="1485.3" r="6.75"/><circle cx="1329.0" cy="1474.6" r="6.75"/><circle cx="1775.7" cy="1568.4" r="6.75"/><circle cx="729.2" cy="1568.4" r="6.75"/><circle cx="1200.4" cy="1532.9" r="6.75"/><circle cx="1161.3" cy="1559.6" r="6.75"/><circle cx="1193.5" cy="1547.6" r="6.75"/><circle cx="1237.2" cy="1565.2" r="6.75"/><circle cx="1317.1" cy="1486.6" r="6.75"/><circle cx="1315.0" cy="1507.9" r="6.75"/><circle cx="1338.5" cy="1512.9" r="6.75"/><circle cx="1212.2" cy="1503.7" r="6.75"/><circle cx="1176.3" cy="1368.6" r="6.75"/><circle cx="1303.9" cy="1541.1" r="6.75"/><circle cx="1719.0" cy="1568.4" r="6.75"/><circle cx="1369.8" cy="1500.4" r="6.75"/><circle cx="1292.6" cy="1533.5" r="6.75"/><circle cx="1194.7" cy="1554.6" r="6.75"/><circle cx="1209.9" cy="1555.0" r="6.75"/><circle cx="1331.6" cy="1480.0" r="6.75"/><circle cx="1254.9" cy="1566.7" r="6.75"/><circle cx="1236.6" cy="1544.1" r="6.75"/><circle cx="1325.5" cy="1466.8" r="6.75"/><circle cx="1370.7" cy="1469.8" r="6.75"/><circle cx="1378.2" cy="1521.7" r="6.75"/><circle cx="1218.7" cy="1561.1" r="6.75"/><circle cx="1359.7" cy="1500.8" r="6.75"/><circle cx="1298.3" cy="1543.5" r="6.75"/><circle cx="1352.6" cy="1531.7" r="6.75"/><circle cx="1233.4" cy="1553.4" r="6.75"/><circle cx="1319.8" cy="1498.9" r="6.75"/><circle cx="1210.7" cy="1442.1" r="6.75"/><circle cx="1224.2" cy="1535.9" r="6.75"/><circle cx="1207.5" cy="1524.8" r="6.75"/><circle cx="1286.5" cy="1554.5" r="6.75"/><circle cx="1351.6" cy="1446.4" r="6.75"/><circle cx="1745.5" cy="1568.4" r="6.75"/><circle cx="1219.8" cy="1554.5" r="6.75"/><circle cx="1318.5" cy="1553.8" r="6.75"/><circle cx="1792.0" cy="1568.4" r="6.75"/><circle cx="1748.5" cy="1568.4" r="6.75"/><circle cx="1188.2" cy="1533.6" r="6.75"/><circle cx="1331.8" cy="1478.9" r="6.75"/><circle cx="1390.2" cy="1510.7" r="6.75"/><circle cx="1385.8" cy="1521.9" r="6.75"/><circle cx="1811.2" cy="1568.4" r="6.75"/><circle cx="1344.2" cy="1518.7" r="6.75"/><circle cx="1328.4" cy="1519.1" r="6.75"/><circle cx="1361.9" cy="1560.7" r="6.75"/><circle cx="1305.9" cy="1517.5" r="6.75"/><circle cx="1374.3" cy="1566.5" r="6.75"/><circle cx="1222.6" cy="1548.1" r="6.75"/><circle cx="1358.5" cy="1481.5" r="6.75"/><circle cx="1362.9" cy="1512.7" r="6.75"/><circle cx="1215.8" cy="1484.7" r="6.75"/><circle cx="1324.1" cy="1549.0" r="6.75"/><circle cx="1315.8" cy="1467.6" r="6.75"/><circle cx="1313.9" cy="1511.8" r="6.75"/><circle cx="1146.5" cy="1549.1" r="6.75"/><circle cx="1144.7" cy="1559.8" r="6.75"/><circle cx="1301.2" cy="1561.8" r="6.75"/><circle cx="1191.5" cy="1547.4" r="6.75"/><circle cx="1309.4" cy="1494.3" r="6.75"/><circle cx="1325.8" cy="1514.0" r="6.75"/><circle cx="1212.3" cy="1534.3" r="6.75"/><circle cx="1195.5" cy="1508.9" r="6.75"/><circle cx="1338.1" cy="1474.4" r="6.75"/><circle cx="1374.4" cy="1538.2" r="6.75"/><circle cx="1160.5" cy="1533.7" r="6.75"/><circle cx="1198.8" cy="1519.0" r="6.75"/><circle cx="1301.2" cy="1549.3" r="6.75"/><circle cx="1684.0" cy="1568.4" r="6.75"/><circle cx="1191.6" cy="1558.1" r="6.75"/><circle cx="1219.3" cy="1526.8" r="6.75"/><circle cx="1344.8" cy="1540.3" r="6.75"/><circle cx="1176.1" cy="1564.6" r="6.75"/><circle cx="1210.7" cy="1522.6" r="6.75"/><circle cx="1307.9" cy="1526.4" r="6.75"/><circle cx="1331.1" cy="1558.3" r="6.75"/><circle cx="1139.5" cy="1532.2" r="6.75"/><circle cx="1216.8" cy="1563.6" r="6.75"/><circle cx="1305.9" cy="1522.8" r="6.75"/><circle cx="1363.8" cy="1498.8" r="6.75"/><circle cx="1314.3" cy="1542.4" r="6.75"/><circle cx="1237.6" cy="1556.2" r="6.75"/><circle cx="1346.4" cy="1543.5" r="6.75"/><circle cx="1382.2" cy="1550.6" r="6.75"/><circle cx="1295.8" cy="1542.9" r="6.75"/><circle cx="1373.1" cy="1052.8" r="6.75"/><circle cx="1198.2" cy="1548.0" r="6.75"/><circle cx="1285.6" cy="1549.8" r="6.75"/><circle cx="1343.5" cy="1566.9" r="6.75"/><circle cx="1381.9" cy="1567.0" r="6.75"/><circle cx="1248.1" cy="1557.4" r="6.75"/><circle cx="1217.1" cy="1503.3" r="6.75"/><circle cx="1208.1" cy="1531.6" r="6.75"/><circle cx="1177.7" cy="1541.1" r="6.75"/><circle cx="1364.0" cy="1554.5" r="6.75"/><circle cx="1314.6" cy="1554.0" r="6.75"/><circle cx="1292.4" cy="1528.9" r="6.75"/><circle cx="1219.1" cy="1524.3" r="6.75"/><circle cx="1185.5" cy="1471.8" r="6.75"/><circle cx="1372.0" cy="1553.8" r="6.75"/><circle cx="1299.5" cy="1537.7" r="6.75"/><circle cx="1293.6" cy="1542.4" r="6.75"/><circle cx="1338.2" cy="1554.5" r="6.75"/><circle cx="920.9" cy="1564.1" r="6.75"/><circle cx="1235.2" cy="1560.9" r="6.75"/><circle cx="1211.6" cy="1520.4" r="6.75"/><circle cx="1325.3" cy="1496.4" r="6.75"/><circle cx="1299.3" cy="1538.2" r="6.75"/><circle cx="1208.1" cy="1522.6" r="6.75"/><circle cx="1223.1" cy="1510.8" r="6.75"/><circle cx="1367.1" cy="1528.5" r="6.75"/><circle cx="1183.3" cy="1538.6" r="6.75"/><circle cx="1310.7" cy="1548.9" r="6.75"/><circle cx="1384.2" cy="1563.0" r="6.75"/><circle cx="1321.3" cy="1566.0" r="6.75"/><circle cx="1357.6" cy="1516.1" r="6.75"/><circle cx="1723.0" cy="1568.4" r="6.75"/><circle cx="1376.6" cy="1533.1" r="6.75"/><circle cx="1345.9" cy="1526.1" r="6.75"/><circle cx="1209.6" cy="1438.1" r="6.75"/><circle cx="1324.5" cy="1514.3" r="6.75"/><circle cx="1190.2" cy="1522.0" r="6.75"/><circle cx="1238.0" cy="1543.9" r="6.75"/><circle cx="1194.3" cy="1516.4" r="6.75"/><circle cx="1339.8" cy="1479.3" r="6.75"/><circle cx="1186.5" cy="1426.7" r="6.75"/><circle cx="1334.7" cy="1467.2" r="6.75"/><circle cx="1302.7" cy="1558.0" r="6.75"/><circle cx="756.9" cy="1568.4" r="6.75"/><circle cx="1195.1" cy="1510.0" r="6.75"/><circle cx="1339.7" cy="1526.7" r="6.75"/><circle cx="1335.6" cy="1464.5" r="6.75"/><circle cx="1337.5" cy="1401.2" r="6.75"/><circle cx="1345.1" cy="1529.9" r="6.75"/><circle cx="1143.1" cy="1538.7" r="6.75"/><circle cx="1226.6" cy="1546.5" r="6.75"/><circle cx="1320.0" cy="1540.7" r="6.75"/><circle cx="1185.6" cy="1550.3" r="6.75"/><circle cx="1369.6" cy="1468.7" r="6.75"/><circle cx="1379.2" cy="1558.5" r="6.75"/><circle cx="1199.3" cy="1500.3" r="6.75"/><circle cx="1340.7" cy="1464.2" r="6.75"/><circle cx="1772.5" cy="1568.4" r="6.75"/><circle cx="1338.3" cy="1511.6" r="6.75"/><circle cx="1318.5" cy="1563.9" r="6.75"/><circle cx="1227.9" cy="1563.2" r="6.75"/><circle cx="1713.0" cy="1568.4" r="6.75"/><circle cx="1139.7" cy="1558.1" r="6.75"/><circle cx="1365.2" cy="1492.5" r="6.75"/><circle cx="1153.7" cy="1455.5" r="6.75"/><circle cx="1344.7" cy="1548.6" r="6.75"/><circle cx="1179.7" cy="1515.6" r="6.75"/><circle cx="1389.3" cy="1517.3" r="6.75"/><circle cx="1158.1" cy="1547.7" r="6.75"/><circle cx="1149.2" cy="1409.4" r="6.75"/><circle cx="1382.8" cy="1510.5" r="6.75"/><circle cx="1203.0" cy="1553.3" r="6.75"/><circle cx="1340.7" cy="1532.0" r="6.75"/><circle cx="1312.3" cy="1538.6" r="6.75"/><circle cx="1385.3" cy="1549.7" r="6.75"/><circle cx="1284.0" cy="1565.0" r="6.75"/><circle cx="1322.3" cy="1517.4" r="6.75"/><circle cx="1162.7" cy="1528.6" r="6.75"/><circle cx="1358.1" cy="1489.9" r="6.75"/><circle cx="1179.7" cy="1555.8" r="6.75"/><circle cx="1194.1" cy="1510.1" r="6.75"/><circle cx="1194.4" cy="1563.3" r="6.75"/><circle cx="1301.0" cy="1508.7" r="6.75"/><circle cx="1360.1" cy="1497.4" r="6.75"/><circle cx="1220.2" cy="1541.6" r="6.75"/><circle cx="1156.3" cy="1546.9" r="6.75"/><circle cx="1205.6" cy="1531.6" r="6.75"/><circle cx="1192.8" cy="1519.5" r="6.75"/><circle cx="1189.4" cy="1533.4" r="6.75"/><circle cx="1205.1" cy="1532.4" r="6.75"/><circle cx="1358.9" cy="1548.4" r="6.75"/><circle cx="1320.1" cy="1507.6" r="6.75"/><circle cx="1329.0" cy="1537.5" r="6.75"/><circle cx="1202.9" cy="1529.1" r="6.75"/><circle cx="1322.3" cy="1460.0" r="6.75"/><circle cx="1298.0" cy="1526.6" r="6.75"/><circle cx="1366.0" cy="1500.3" r="6.75"/><circle cx="1293.0" cy="1556.4" r="6.75"/><circle cx="1361.6" cy="1538.8" r="6.75"/><circle cx="1357.9" cy="1479.3" r="6.75"/><circle cx="1844.0" cy="1568.4" r="6.75"/><circle cx="1338.0" cy="1465.4" r="6.75"/><circle cx="1324.8" cy="1546.4" r="6.75"/><circle cx="1336.8" cy="1471.8" r="6.75"/><circle cx="1150.2" cy="1510.3" r="6.75"/><circle cx="1141.6" cy="1391.5" r="6.75"/><circle cx="1327.8" cy="1512.7" r="6.75"/><circle cx="1298.9" cy="1541.1" r="6.75"/><circle cx="1347.3" cy="1419.0" r="6.75"/><circle cx="1331.1" cy="1518.6" r="6.75"/><circle cx="1176.2" cy="1562.7" r="6.75"/><circle cx="1383.4" cy="1529.3" r="6.75"/><circle cx="1382.9" cy="1526.0" r="6.75"/><circle cx="1309.4" cy="1562.2" r="6.75"/><circle cx="1163.5" cy="1552.3" r="6.75"/><circle cx="1340.2" cy="1535.5" r="6.75"/><circle cx="1324.8" cy="1441.4" r="6.75"/><circle cx="1210.0" cy="1535.4" r="6.75"/><circle cx="1315.7" cy="1504.6" r="6.75"/><circle cx="1374.7" cy="1554.3" r="6.75"/><circle cx="1378.9" cy="1538.3" r="6.75"/><circle cx="1244.6" cy="1564.0" r="6.75"/><circle cx="1204.7" cy="1567.3" r="6.75"/><circle cx="1345.9" cy="1539.3" r="6.75"/><circle cx="1196.1" cy="1507.9" r="6.75"/><circle cx="1314.3" cy="1498.4" r="6.75"/><circle cx="1320.0" cy="1567.8" r="6.75"/><circle cx="1356.8" cy="1538.7" r="6.75"/><circle cx="1150.2" cy="1551.0" r="6.75"/><circle cx="1215.5" cy="1466.7" r="6.75"/><circle cx="752.8" cy="1568.4" r="6.75"/><circle cx="1347.0" cy="1538.0" r="6.75"/><circle cx="1351.4" cy="1469.3" r="6.75"/><circle cx="1346.5" cy="1528.6" r="6.75"/><circle cx="1187.3" cy="1503.3" r="6.75"/><circle cx="1812.0" cy="1568.4" r="6.75"/><circle cx="1377.3" cy="1557.3" r="6.75"/><circle cx="1339.2" cy="1524.5" r="6.75"/><circle cx="1370.5" cy="1510.5" r="6.75"/><circle cx="1672.0" cy="1568.4" r="6.75"/><circle cx="1387.0" cy="1548.2" r="6.75"/><circle cx="1329.5" cy="1454.4" r="6.75"/><circle cx="1221.9" cy="1520.2" r="6.75"/><circle cx="1324.9" cy="1540.0" r="6.75"/><circle cx="1173.2" cy="1546.5" r="6.75"/><circle cx="1156.9" cy="1516.6" r="6.75"/><circle cx="1149.8" cy="1555.0" r="6.75"/><circle cx="1269.7" cy="1566.8" r="6.75"/><circle cx="1150.7" cy="1557.3" r="6.75"/><circle cx="1208.9" cy="1507.5" r="6.75"/><circle cx="1209.3" cy="1501.3" r="6.75"/><circle cx="1227.2" cy="1521.2" r="6.75"/><circle cx="1836.0" cy="1568.4" r="6.75"/><circle cx="1179.0" cy="1519.5" r="6.75"/><circle cx="1202.5" cy="1483.5" r="6.75"/><circle cx="1235.3" cy="1547.8" r="6.75"/><circle cx="1295.1" cy="1543.7" r="6.75"/><circle cx="1336.4" cy="1475.0" r="6.75"/><circle cx="1223.5" cy="1545.4" r="6.75"/><circle cx="1210.9" cy="1488.2" r="6.75"/><circle cx="1151.6" cy="1556.5" r="6.75"/><circle cx="1360.4" cy="1480.1" r="6.75"/><circle cx="1309.5" cy="1483.4" r="6.75"/><circle cx="1369.1" cy="1504.7" r="6.75"/><circle cx="1359.1" cy="1563.3" r="6.75"/><circle cx="1365.7" cy="1533.7" r="6.75"/><circle cx="1374.7" cy="1545.6" r="6.75"/><circle cx="1810.4" cy="1568.4" r="6.75"/><circle cx="1339.1" cy="1556.3" r="6.75"/><circle cx="1211.5" cy="1547.0" r="6.75"/><circle cx="1216.2" cy="1499.6" r="6.75"/><circle cx="1387.0" cy="1539.6" r="6.75"/><circle cx="1332.0" cy="1560.8" r="6.75"/><circle cx="1324.1" cy="1547.5" r="6.75"/><circle cx="1348.9" cy="1550.6" r="6.75"/><circle cx="1219.4" cy="1560.0" r="6.75"/><circle cx="1324.5" cy="1488.9" r="6.75"/><circle cx="1371.5" cy="1567.0" r="6.75"/><circle cx="1328.6" cy="1463.5" r="6.75"/><circle cx="1212.8" cy="1463.7" r="6.75"/><circle cx="1332.4" cy="1555.7" r="6.75"/><circle cx="1314.7" cy="1531.5" r="6.75"/><circle cx="1189.8" cy="1532.2" r="6.75"/><circle cx="1327.2" cy="1550.4" r="6.75"/><circle cx="1187.6" cy="1539.0" r="6.75"/><circle cx="1307.0" cy="1525.6" r="6.75"/><circle cx="1205.6" cy="1528.1" r="6.75"/><circle cx="1367.1" cy="1515.8" r="6.75"/><circle cx="1284.6" cy="1550.7" r="6.75"/><circle cx="1356.8" cy="1492.6" r="6.75"/><circle cx="1184.5" cy="1523.6" r="6.75"/><circle cx="1333.1" cy="1450.7" r="6.75"/><circle cx="1222.2" cy="1566.9" r="6.75"/><circle cx="1678.0" cy="1568.4" r="6.75"/><circle cx="1379.6" cy="1567.0" r="6.75"/><circle cx="1334.4" cy="1517.9" r="6.75"/><circle cx="1319.6" cy="1462.0" r="6.75"/><circle cx="1359.9" cy="1508.1" r="6.75"/><circle cx="1148.8" cy="1526.6" r="6.75"/><circle cx="1204.9" cy="1515.5" r="6.75"/><circle cx="1207.6" cy="1473.8" r="6.75"/><circle cx="1304.0" cy="1564.0" r="6.75"/><circle cx="1364.6" cy="1534.1" r="6.75"/><circle cx="1191.6" cy="1508.3" r="6.75"/><circle cx="1193.6" cy="1531.7" r="6.75"/><circle cx="1388.5" cy="1511.1" r="6.75"/><circle cx="1163.1" cy="1555.8" r="6.75"/><circle cx="1184.0" cy="1475.7" r="6.75"/><circle cx="1333.7" cy="1561.5" r="6.75"/><circle cx="1243.6" cy="1551.7" r="6.75"/><circle cx="1221.7" cy="1561.3" r="6.75"/><circle cx="1330.4" cy="1505.1" r="6.75"/><circle cx="1196.1" cy="1524.8" r="6.75"/><circle cx="1208.9" cy="1564.6" r="6.75"/><circle cx="1365.5" cy="1540.1" r="6.75"/><circle cx="1341.0" cy="1550.2" r="6.75"/><circle cx="1302.1" cy="1561.2" r="6.75"/><circle cx="1205.4" cy="1508.4" r="6.75"/><circle cx="1319.9" cy="1494.1" r="6.75"/><circle cx="1213.4" cy="1564.9" r="6.75"/><circle cx="1243.2" cy="1564.0" r="6.75"/><circle cx="1149.4" cy="1557.3" r="6.75"/><circle cx="1234.3" cy="1557.2" r="6.75"/><circle cx="1220.8" cy="1554.6" r="6.75"/><circle cx="1335.7" cy="1435.6" r="6.75"/><circle cx="1366.8" cy="1459.1" r="6.75"/><circle cx="1216.6" cy="1504.8" r="6.75"/><circle cx="1339.0" cy="1562.9" r="6.75"/><circle cx="1360.5" cy="1503.6" r="6.75"/><circle cx="1316.2" cy="1451.5" r="6.75"/><circle cx="1215.5" cy="1507.9" r="6.75"/><circle cx="1338.6" cy="1532.8" r="6.75"/><circle cx="1335.5" cy="1510.9" r="6.75"/><circle cx="1211.9" cy="1520.2" r="6.75"/><circle cx="1221.2" cy="1514.8" r="6.75"/><circle cx="1146.2" cy="1567.8" r="6.75"/><circle cx="1344.6" cy="1539.0" r="6.75"/><circle cx="1203.3" cy="1544.9" r="6.75"/><circle cx="1307.3" cy="1556.5" r="6.75"/><circle cx="1364.5" cy="1546.6" r="6.75"/><circle cx="1215.7" cy="1456.7" r="6.75"/><circle cx="1216.1" cy="1536.2" r="6.75"/><circle cx="1216.6" cy="1559.0" r="6.75"/><circle cx="1198.7" cy="1538.8" r="6.75"/><circle cx="1027.6" cy="1560.5" r="6.75"/><circle cx="958.0" cy="1560.8" r="6.75"/><circle cx="1179.2" cy="1548.7" r="6.75"/><circle cx="1225.6" cy="1562.5" r="6.75"/><circle cx="1238.2" cy="1544.8" r="6.75"/><circle cx="1375.2" cy="1533.4" r="6.75"/><circle cx="1379.4" cy="1531.3" r="6.75"/><circle cx="1153.2" cy="1561.9" r="6.75"/><circle cx="1174.9" cy="1545.4" r="6.75"/><circle cx="1180.8" cy="1539.0" r="6.75"/><circle cx="1389.4" cy="1520.7" r="6.75"/><circle cx="1389.3" cy="1519.1" r="6.75"/><circle cx="1349.1" cy="1551.0" r="6.75"/><circle cx="1202.9" cy="1466.4" r="6.75"/><circle cx="1284.5" cy="1563.7" r="6.75"/><circle cx="1203.9" cy="1488.3" r="6.75"/><circle cx="1004.1" cy="1560.5" r="6.75"/><circle cx="1769.0" cy="1568.4" r="6.75"/><circle cx="1206.8" cy="1489.9" r="6.75"/><circle cx="1300.9" cy="1555.9" r="6.75"/><circle cx="1354.1" cy="1498.9" r="6.75"/><circle cx="1279.9" cy="1552.8" r="6.75"/><circle cx="1197.1" cy="1545.9" r="6.75"/><circle cx="1356.4" cy="1530.0" r="6.75"/><circle cx="1307.7" cy="1540.3" r="6.75"/><circle cx="1327.3" cy="1556.3" r="6.75"/><circle cx="1311.2" cy="1495.8" r="6.75"/><circle cx="1382.9" cy="1520.1" r="6.75"/><circle cx="1185.5" cy="1563.2" r="6.75"/><circle cx="1225.6" cy="1511.3" r="6.75"/><circle cx="1190.4" cy="1557.3" r="6.75"/><circle cx="1333.6" cy="1540.3" r="6.75"/><circle cx="1309.4" cy="1518.7" r="6.75"/><circle cx="1211.0" cy="1468.5" r="6.75"/><circle cx="1339.1" cy="1565.1" r="6.75"/><circle cx="1370.6" cy="1522.3" r="6.75"/><circle cx="1811.6" cy="1568.4" r="6.75"/><circle cx="1166.2" cy="1552.5" r="6.75"/><circle cx="1325.3" cy="1470.4" r="6.75"/><circle cx="1174.8" cy="1550.8" r="6.75"/><circle cx="1306.1" cy="1490.9" r="6.75"/><circle cx="1303.2" cy="1539.0" r="6.75"/><circle cx="1191.5" cy="1555.1" r="6.75"/><circle cx="1200.7" cy="1534.4" r="6.75"/><circle cx="1209.5" cy="1484.1" r="6.75"/><circle cx="1134.4" cy="1566.8" r="6.75"/><circle cx="1216.5" cy="1510.5" r="6.75"/><circle cx="1329.2" cy="1543.7" r="6.75"/><circle cx="1296.0" cy="1563.4" r="6.75"/><circle cx="1206.3" cy="1509.8" r="6.75"/><circle cx="1359.5" cy="1514.3" r="6.75"/><circle cx="1335.7" cy="1388.9" r="6.75"/><circle cx="1202.8" cy="1486.8" r="6.75"/><circle cx="1305.0" cy="1518.9" r="6.75"/><circle cx="1357.8" cy="1512.7" r="6.75"/><circle cx="1208.6" cy="1518.0" r="6.75"/><circle cx="1339.4" cy="1565.2" r="6.75"/><circle cx="1316.9" cy="1534.3" r="6.75"/><circle cx="1694.0" cy="1568.4" r="6.75"/><circle cx="1255.6" cy="1564.7" r="6.75"/><circle cx="1308.8" cy="1502.8" r="6.75"/><circle cx="1190.8" cy="1355.5" r="6.75"/><circle cx="1182.5" cy="1521.5" r="6.75"/><circle cx="1347.7" cy="1567.3" r="6.75"/><circle cx="1384.2" cy="1421.5" r="6.75"/><circle cx="1381.9" cy="1524.0" r="6.75"/><circle cx="1210.7" cy="1441.3" r="6.75"/><circle cx="1194.2" cy="1520.2" r="6.75"/><circle cx="1750.5" cy="1568.4" r="6.75"/><circle cx="1309.3" cy="1524.4" r="6.75"/><circle cx="1250.1" cy="1559.6" r="6.75"/><circle cx="1170.6" cy="1560.2" r="6.75"/><circle cx="1379.4" cy="1552.5" r="6.75"/><circle cx="1191.1" cy="1531.0" r="6.75"/><circle cx="1230.2" cy="1540.8" r="6.75"/><circle cx="1175.7" cy="1494.6" r="6.75"/><circle cx="1330.5" cy="1501.7" r="6.75"/><circle cx="1207.4" cy="1531.3" r="6.75"/><circle cx="1157.0" cy="1168.9" r="6.75"/><circle cx="1310.7" cy="1531.7" r="6.75"/><circle cx="1247.8" cy="1562.6" r="6.75"/><circle cx="1362.1" cy="1515.3" r="6.75"/><circle cx="1238.1" cy="1558.7" r="6.75"/><circle cx="1211.4" cy="1563.6" r="6.75"/><circle cx="1206.6" cy="1446.8" r="6.75"/><circle cx="1384.4" cy="1521.5" r="6.75"/><circle cx="1210.1" cy="1508.9" r="6.75"/><circle cx="733.8" cy="1562.6" r="6.75"/><circle cx="1340.8" cy="1379.4" r="6.75"/><circle cx="1173.3" cy="1557.6" r="6.75"/><circle cx="1225.0" cy="1522.7" r="6.75"/><circle cx="1211.5" cy="1433.4" r="6.75"/><circle cx="1356.3" cy="1175.4" r="6.75"/><circle cx="1771.0" cy="1568.4" r="6.75"/><circle cx="1375.6" cy="1215.8" r="6.75"/></g>
<g class="b"><circle cx="1131.2" cy="1140.9" r="6.75"/><circle cx="1043.9" cy="393.4" r="6.75"/><circle cx="475.6" cy="1274.0" r="6.75"/><circle cx="351.9" cy="1536.3" r="6.75"/><circle cx="721.1" cy="1552.3" r="6.75"/><circle cx="729.7" cy="1555.3" r="6.75"/><circle cx="750.6" cy="1556.4" r="6.75"/><circle cx="990.6" cy="1266.9" r="6.75"/><circle cx="959.3" cy="1295.8" r="6.75"/><circle cx="1017.5" cy="1305.4" r="6.75"/><circle cx="1029.1" cy="1355.3" r="6.75"/><circle cx="1031.8" cy="1380.3" r="6.75"/><circle cx="1001.4" cy="1440.1" r="6.75"/><circle cx="1133.4" cy="1449.3" r="6.75"/><circle cx="1135.0" cy="1481.7" r="6.75"/><circle cx="951.5" cy="1490.6" r="6.75"/><circle cx="1060.2" cy="1509.2" r="6.75"/><circle cx="1126.0" cy="1507.0" r="6.75"/><circle cx="1132.2" cy="1513.4" r="6.75"/><circle cx="1007.9" cy="1526.6" r="6.75"/><circle cx="948.2" cy="1530.8" r="6.75"/><circle cx="1115.2" cy="1525.8" r="6.75"/><circle cx="1119.9" cy="1532.4" r="6.75"/><circle cx="1122.6" cy="1534.2" r="6.75"/><circle cx="1122.2" cy="1539.7" r="6.75"/><circle cx="1132.9" cy="1537.9" r="6.75"/><circle cx="837.8" cy="1540.2" r="6.75"/><circle cx="851.3" cy="1544.9" r="6.75"/><circle cx="815.5" cy="1550.5" r="6.75"/><circle cx="824.2" cy="1555.9" r="6.75"/><circle cx="826.0" cy="1558.7" r="6.75"/><circle cx="843.2" cy="1560.5" r="6.75"/><circle cx="873.2" cy="1555.6" r="6.75"/><circle cx="938.7" cy="1554.9" r="6.75"/><circle cx="996.3" cy="1550.9" r="6.75"/><circle cx="994.5" cy="1554.1" r="6.75"/><circle cx="1031.4" cy="1542.0" r="6.75"/><circle cx="1039.9" cy="1549.3" r="6.75"/><circle cx="1044.8" cy="1555.9" r="6.75"/><circle cx="1038.5" cy="1559.6" r="6.75"/><circle cx="1054.8" cy="1549.6" r="6.75"/><circle cx="1065.1" cy="1543.7" r="6.75"/><circle cx="1071.4" cy="1547.3" r="6.75"/><circle cx="1063.8" cy="1549.6" r="6.75"/><circle cx="1061.1" cy="1555.0" r="6.75"/><circle cx="1065.6" cy="1557.8" r="6.75"/><circle cx="1067.4" cy="1560.5" r="6.75"/><circle cx="1085.0" cy="1538.8" r="6.75"/><circle cx="1098.7" cy="1541.1" r="6.75"/><circle cx="1102.7" cy="1542.4" r="6.75"/><circle cx="1100.0" cy="1547.8" r="6.75"/><circle cx="1090.0" cy="1552.3" r="6.75"/><circle cx="1094.5" cy="1551.4" r="6.75"/><circle cx="1098.2" cy="1554.1" r="6.75"/><circle cx="1081.0" cy="1557.8" r="6.75"/><circle cx="1085.5" cy="1559.6" r="6.75"/><circle cx="1113.5" cy="1548.7" r="6.75"/><circle cx="1113.5" cy="1555.0" r="6.75"/><circle cx="1128.9" cy="1554.1" r="6.75"/><circle cx="1126.2" cy="1555.9" r="6.75"/><circle cx="1136.1" cy="1546.0" r="6.75"/><circle cx="1137.0" cy="1548.7" r="6.75"/><circle cx="1122.9" cy="1532.2" r="6.75"/><circle cx="1131.6" cy="1556.1" r="6.75"/></g>
<g class="r"><circle cx="1624.3" cy="77.3" r="6.75"/><circle cx="1709.2" cy="77.3" r="6.75"/><circle cx="1739.8" cy="77.3" r="6.75"/><circle cx="1804.1" cy="77.3" r="6.75"/><circle cx="1452.3" cy="204.0" r="6.75"/><circle cx="1484.9" cy="274.5" r="6.75"/><circle cx="1465.6" cy="371.0" r="6.75"/><circle cx="1432.8" cy="398.0" r="6.75"/><circle cx="1812.5" cy="504.2" r="6.75"/><circle cx="1557.3" cy="558.9" r="6.75"/><circle cx="1483.8" cy="648.2" r="6.75"/><circle cx="1549.4" cy="652.2" r="6.75"/><circle cx="1628.6" cy="689.7" r="6.75"/><circle cx="1559.5" cy="731.7" r="6.75"/><circle cx="1703.0" cy="815.8" r="6.75"/><circle cx="1454.2" cy="858.9" r="6.75"/><circle cx="1476.2" cy="860.2" r="6.75"/><circle cx="1399.2" cy="863.5" r="6.75"/><circle cx="1793.4" cy="894.0" r="6.75"/><circle cx="1430.3" cy="918.8" r="6.75"/><circle cx="1835.7" cy="921.4" r="6.75"/><circle cx="1897.0" cy="928.5" r="6.75"/><circle cx="1425.5" cy="945.4" r="6.75"/><circle cx="1422.5" cy="958.7" r="6.75"/><circle cx="1510.9" cy="991.8" r="6.75"/><circle cx="1421.1" cy="992.6" r="6.75"/><circle cx="1651.5" cy="1019.0" r="6.75"/><circle cx="1488.1" cy="1025.4" r="6.75"/><circle cx="1434.7" cy="1052.2" r="6.75"/><circle cx="1539.4" cy="1062.3" r="6.75"/><circle cx="1837.3" cy="1072.8" r="6.75"/><circle cx="1445.8" cy="1076.1" r="6.75"/><circle cx="1442.3" cy="1078.8" r="6.75"/><circle cx="1554.3" cy="1088.3" r="6.75"/><circle cx="1398.9" cy="1092.4" r="6.75"/><circle cx="1470.2" cy="1097.0" r="6.75"/><circle cx="1452.3" cy="1110.6" r="6.75"/><circle cx="1420.0" cy="1135.8" r="6.75"/><circle cx="1620.3" cy="1142.4" r="6.75"/><circle cx="1583.6" cy="1150.4" r="6.75"/><circle cx="1776.0" cy="1179.5" r="6.75"/><circle cx="1421.4" cy="1183.5" r="6.75"/><circle cx="1505.5" cy="1198.4" r="6.75"/><circle cx="1568.4" cy="1198.7" r="6.75"/><circle cx="1535.9" cy="1209.0" r="6.75"/><circle cx="1567.3" cy="1214.7" r="6.75"/><circle cx="1603.7" cy="1218.0" r="6.75"/><circle cx="1393.2" cy="1237.2" r="6.75"/><circle cx="1422.2" cy="1242.9" r="6.75"/><circle cx="1608.3" cy="1245.6" r="6.75"/><circle cx="1506.0" cy="1246.2" r="6.75"/><circle cx="1451.5" cy="1247.5" r="6.75"/><circle cx="1456.4" cy="1256.2" r="6.75"/><circle cx="1417.0" cy="1274.4" r="6.75"/><circle cx="1466.7" cy="1277.2" r="6.75"/><circle cx="1606.7" cy="1288.8" r="6.75"/><circle cx="1556.2" cy="1290.4" r="6.75"/><circle cx="1410.0" cy="1291.1" r="6.75"/><circle cx="1564.9" cy="1292.2" r="6.75"/><circle cx="1517.2" cy="1303.4" r="6.75"/><circle cx="1417.7" cy="1306.0" r="6.75"/><circle cx="1494.0" cy="1307.2" r="6.75"/><circle cx="1447.2" cy="1308.0" r="6.75"/><circle cx="1775.4" cy="1309.5" r="6.75"/><circle cx="1531.5" cy="1309.9" r="6.75"/><circle cx="1692.8" cy="1312.1" r="6.75"/><circle cx="1543.8" cy="1313.2" r="6.75"/><circle cx="1402.7" cy="1314.4" r="6.75"/><circle cx="1443.8" cy="1329.7" r="6.75"/><circle cx="1905.3" cy="1331.2" r="6.75"/><circle cx="1440.5" cy="1332.9" r="6.75"/><circle cx="1523.3" cy="1337.4" r="6.75"/><circle cx="1649.7" cy="1338.7" r="6.75"/><circle cx="1481.6" cy="1344.1" r="6.75"/><circle cx="1799.5" cy="1346.4" r="6.75"/><circle cx="1460.6" cy="1346.5" r="6.75"/><circle cx="1440.1" cy="1350.5" r="6.75"/><circle cx="1428.6" cy="1353.7" r="6.75"/><circle cx="1516.6" cy="1354.8" r="6.75"/><circle cx="1415.7" cy="1358.5" r="6.75"/><circle cx="1460.4" cy="1358.8" r="6.75"/><circle cx="1389.9" cy="1363.6" r="6.75"/><circle cx="1430.6" cy="1363.7" r="6.75"/><circle cx="1398.0" cy="1364.7" r="6.75"/><circle cx="1461.3" cy="1366.7" r="6.75"/><circle cx="1661.3" cy="1367.5" r="6.75"/><circle cx="1419.1" cy="1368.4" r="6.75"/><circle cx="1408.9" cy="1370.4" r="6.75"/><circle cx="1500.7" cy="1370.7" r="6.75"/><circle cx="1471.2" cy="1374.1" r="6.75"/><circle cx="1577.2" cy="1374.7" r="6.75"/><circle cx="1573.4" cy="1381.0" r="6.75"/><circle cx="1524.6" cy="1386.3" r="6.75"/><circle cx="2196.6" cy="1389.5" r="6.75"/><circle cx="1406.3" cy="1389.9" r="6.75"/><circle cx="1547.2" cy="1400.0" r="6.75"/><circle cx="1470.3" cy="1401.6" r="6.75"/><circle cx="1449.7" cy="1406.1" r="6.75"/><circle cx="1475.4" cy="1406.1" r="6.75"/><circle cx="1395.3" cy="1406.3" r="6.75"/><circle cx="1550.1" cy="1411.0" r="6.75"/><circle cx="1487.0" cy="1414.6" r="6.75"/><circle cx="2015.2" cy="1416.1" r="6.75"/><circle cx="1432.5" cy="1417.4" r="6.75"/><circle cx="1702.7" cy="1418.0" r="6.75"/><circle cx="1477.8" cy="1420.3" r="6.75"/><circle cx="1404.0" cy="1420.3" r="6.75"/><circle cx="1397.6" cy="1422.1" r="6.75"/><circle cx="1471.2" cy="1427.5" r="6.75"/><circle cx="1824.8" cy="1428.8" r="6.75"/><circle cx="1482.6" cy="1430.6" r="6.75"/><circle cx="1393.3" cy="1433.3" r="6.75"/><circle cx="1496.4" cy="1433.5" r="6.75"/><circle cx="1398.6" cy="1434.2" r="6.75"/><circle cx="1481.0" cy="1436.3" r="6.75"/><circle cx="1503.3" cy="1437.1" r="6.75"/><circle cx="1548.3" cy="1439.6" r="6.75"/><circle cx="1428.9" cy="1442.5" r="6.75"/><circle cx="1480.3" cy="1447.2" r="6.75"/><circle cx="1451.4" cy="1447.6" r="6.75"/><circle cx="1549.5" cy="1451.7" r="6.75"/><circle cx="1458.4" cy="1455.3" r="6.75"/><circle cx="1393.5" cy="1456.8" r="6.75"/><circle cx="1487.0" cy="1459.3" r="6.75"/><circle cx="1417.0" cy="1459.5" r="6.75"/><circle cx="1409.0" cy="1461.3" r="6.75"/><circle cx="1739.3" cy="1464.3" r="6.75"/><circle cx="1591.5" cy="1464.4" r="6.75"/><circle cx="1647.9" cy="1464.4" r="6.75"/><circle cx="1457.7" cy="1467.3" r="6.75"/><circle cx="1419.3" cy="1467.3" r="6.75"/><circle cx="1392.4" cy="1468.0" r="6.75"/><circle cx="1481.4" cy="1469.4" r="6.75"/><circle cx="1491.1" cy="1469.4" r="6.75"/><circle cx="1710.3" cy="1470.3" r="6.75"/><circle cx="1446.5" cy="1470.7" r="6.75"/><circle cx="1474.5" cy="1472.2" r="6.75"/><circle cx="1515.2" cy="1472.2" r="6.75"/><circle cx="1406.3" cy="1474.0" r="6.75"/><circle cx="1529.3" cy="1474.5" r="6.75"/><circle cx="1460.9" cy="1475.4" r="6.75"/><circle cx="1884.4" cy="1477.1" r="6.75"/><circle cx="1663.5" cy="1478.1" r="6.75"/><circle cx="1461.8" cy="1478.5" r="6.75"/><circle cx="1507.3" cy="1478.7" r="6.75"/><circle cx="1509.2" cy="1479.9" r="6.75"/><circle cx="1494.0" cy="1481.4" r="6.75"/><circle cx="2055.8" cy="1483.9" r="6.75"/><circle cx="1541.0" cy="1484.8" r="6.75"/><circle cx="1400.4" cy="1484.8" r="6.75"/><circle cx="1413.9" cy="1485.7" r="6.75"/><circle cx="1411.8" cy="1485.9" r="6.75"/><circle cx="1425.7" cy="1486.6" r="6.75"/><circle cx="1400.6" cy="1486.6" r="6.75"/><circle cx="1589.3" cy="1487.5" r="6.75"/><circle cx="1416.2" cy="1488.1" r="6.75"/><circle cx="1535.5" cy="1488.1" r="6.75"/><circle cx="1537.4" cy="1488.8" r="6.75"/><circle cx="1427.5" cy="1489.3" r="6.75"/><circle cx="1413.0" cy="1491.1" r="6.75"/><circle cx="1446.5" cy="1493.3" r="6.75"/><circle cx="1493.5" cy="1493.9" r="6.75"/><circle cx="1502.5" cy="1494.8" r="6.75"/><circle cx="1519.7" cy="1495.7" r="6.75"/><circle cx="1505.5" cy="1495.7" r="6.75"/><circle cx="1655.9" cy="1496.6" r="6.75"/><circle cx="1742.6" cy="1496.9" r="6.75"/><circle cx="1629.1" cy="1497.5" r="6.75"/><circle cx="1463.2" cy="1500.0" r="6.75"/><circle cx="1484.2" cy="1500.4" r="6.75"/><circle cx="1428.5" cy="1501.8" r="6.75"/><circle cx="1492.5" cy="1501.8" r="6.75"/><circle cx="1412.9" cy="1502.5" r="6.75"/><circle cx="1672.9" cy="1503.1" r="6.75"/><circle cx="1805.2" cy="1503.7" r="6.75"/><circle cx="1431.4" cy="1504.7" r="6.75"/><circle cx="1478.4" cy="1506.2" r="6.75"/><circle cx="1459.6" cy="1506.9" r="6.75"/><circle cx="1390.8" cy="1508.3" r="6.75"/><circle cx="1654.1" cy="1508.3" r="6.75"/><circle cx="1437.1" cy="1509.1" r="6.75"/><circle cx="1394.5" cy="1509.1" r="6.75"/><circle cx="1533.3" cy="1509.1" r="6.75"/><circle cx="1680.3" cy="1509.3" r="6.75"/><circle cx="1414.7" cy="1509.4" r="6.75"/><circle cx="1398.1" cy="1510.5" r="6.75"/><circle cx="1461.7" cy="1510.5" r="6.75"/><circle cx="1440.0" cy="1511.2" r="6.75"/><circle cx="1396.6" cy="1512.0" r="6.75"/><circle cx="1471.9" cy="1512.0" r="6.75"/><circle cx="1514.5" cy="1512.3" r="6.75"/><circle cx="1762.9" cy="1512.6" r="6.75"/><circle cx="1568.4" cy="1513.3" r="6.75"/><circle cx="1461.0" cy="1513.4" r="6.75"/><circle cx="1437.9" cy="1514.1" r="6.75"/><circle cx="1887.1" cy="1514.3" r="6.75"/><circle cx="1848.1" cy="1515.6" r="6.75"/><circle cx="1430.6" cy="1516.3" r="6.75"/><circle cx="1430.4" cy="1516.5" r="6.75"/><circle cx="1435.3" cy="1516.6" r="6.75"/><circle cx="1417.6" cy="1517.0" r="6.75"/><circle cx="1499.6" cy="1517.1" r="6.75"/><circle cx="1403.6" cy="1517.2" r="6.75"/><circle cx="1403.7" cy="1517.3" r="6.75"/><circle cx="1429.9" cy="1517.5" r="6.75"/><circle cx="1493.5" cy="1517.5" r="6.75"/><circle cx="1428.6" cy="1517.6" r="6.75"/><circle cx="1450.9" cy="1517.7" r="6.75"/><circle cx="1528.3" cy="1519.2" r="6.75"/><circle cx="1538.4" cy="1519.2" r="6.75"/><circle cx="1446.3" cy="1519.2" r="6.75"/><circle cx="1414.7" cy="1519.5" r="6.75"/><circle cx="1403.9" cy="1519.9" r="6.75"/><circle cx="1452.9" cy="1520.0" r="6.75"/><circle cx="1484.9" cy="1520.3" r="6.75"/><circle cx="1408.9" cy="1520.6" r="6.75"/><circle cx="1896.1" cy="1520.8" r="6.75"/><circle cx="1405.3" cy="1520.8" r="6.75"/><circle cx="1496.8" cy="1521.4" r="6.75"/><circle cx="1466.6" cy="1521.8" r="6.75"/><circle cx="1461.1" cy="1521.9" r="6.75"/><circle cx="1393.1" cy="1521.9" r="6.75"/><circle cx="1547.6" cy="1522.1" r="6.75"/><circle cx="1402.5" cy="1522.7" r="6.75"/><circle cx="1493.6" cy="1522.7" r="6.75"/><circle cx="1490.7" cy="1522.8" r="6.75"/><circle cx="1395.4" cy="1523.4" r="6.75"/><circle cx="1416.2" cy="1523.5" r="6.75"/><circle cx="1683.6" cy="1523.5" r="6.75"/><circle cx="1497.2" cy="1524.2" r="6.75"/><circle cx="1784.9" cy="1524.3" r="6.75"/><circle cx="1453.2" cy="1524.6" r="6.75"/><circle cx="1390.1" cy="1525.0" r="6.75"/><circle cx="1414.2" cy="1526.2" r="6.75"/><circle cx="1411.8" cy="1526.4" r="6.75"/><circle cx="1402.0" cy="1527.0" r="6.75"/><circle cx="1433.4" cy="1527.1" r="6.75"/><circle cx="1546.5" cy="1527.1" r="6.75"/><circle cx="1401.1" cy="1527.3" r="6.75"/><circle cx="1455.7" cy="1529.0" r="6.75"/><circle cx="1487.6" cy="1529.6" r="6.75"/><circle cx="1451.7" cy="1530.3" r="6.75"/><circle cx="1404.7" cy="1530.6" r="6.75"/><circle cx="1424.2" cy="1530.8" r="6.75"/><circle cx="1395.4" cy="1531.0" r="6.75"/><circle cx="1417.9" cy="1531.1" r="6.75"/><circle cx="1434.3" cy="1531.1" r="6.75"/><circle cx="1514.2" cy="1532.0" r="6.75"/><circle cx="1459.5" cy="1532.2" r="6.75"/><circle cx="1452.4" cy="1532.3" r="6.75"/><circle cx="1476.2" cy="1532.4" r="6.75"/><circle cx="1563.1" cy="1532.6" r="6.75"/><circle cx="1392.7" cy="1532.7" r="6.75"/><circle cx="1409.3" cy="1532.8" r="6.75"/><circle cx="1545.4" cy="1532.9" r="6.75"/><circle cx="1416.5" cy="1533.1" r="6.75"/><circle cx="1485.7" cy="1533.1" r="6.75"/><circle cx="1477.6" cy="1533.3" r="6.75"/><circle cx="1594.8" cy="1533.3" r="6.75"/><circle cx="1405.2" cy="1533.4" r="6.75"/><circle cx="1669.0" cy="1533.7" r="6.75"/><circle cx="1448.4" cy="1533.8" r="6.75"/><circle cx="1560.6" cy="1534.0" r="6.75"/><circle cx="1408.5" cy="1534.4" r="6.75"/><circle cx="1413.3" cy="1534.5" r="6.75"/><circle cx="1398.2" cy="1534.7" r="6.75"/><circle cx="1627.9" cy="1535.1" r="6.75"/><circle cx="1397.0" cy="1535.4" r="6.75"/><circle cx="1447.3" cy="1535.4" r="6.75"/><circle cx="1428.8" cy="1535.4" r="6.75"/><circle cx="1466.5" cy="1535.5" r="6.75"/><circle cx="1409.7" cy="1535.6" r="6.75"/><circle cx="1394.6" cy="1535.8" r="6.75"/><circle cx="1440.1" cy="1535.9" r="6.75"/><circle cx="1499.1" cy="1536.1" r="6.75"/><circle cx="1596.4" cy="1536.2" r="6.75"/><circle cx="1432.9" cy="1536.2" r="6.75"/><circle cx="1395.7" cy="1536.4" r="6.75"/><circle cx="1392.7" cy="1536.6" r="6.75"/><circle cx="1429.0" cy="1536.6" r="6.75"/><circle cx="2036.6" cy="1536.8" r="6.75"/><circle cx="1503.5" cy="1536.9" r="6.75"/><circle cx="1396.1" cy="1536.9" r="6.75"/><circle cx="1417.5" cy="1537.0" r="6.75"/><circle cx="1421.0" cy="1537.1" r="6.75"/><circle cx="1415.3" cy="1537.3" r="6.75"/><circle cx="1419.5" cy="1537.5" r="6.75"/><circle cx="1405.8" cy="1537.5" r="6.75"/><circle cx="1467.0" cy="1537.6" r="6.75"/><circle cx="1695.9" cy="1537.6" r="6.75"/><circle cx="1436.6" cy="1537.7" r="6.75"/><circle cx="1476.8" cy="1537.8" r="6.75"/><circle cx="1396.6" cy="1537.8" r="6.75"/><circle cx="1698.6" cy="1537.8" r="6.75"/><circle cx="1516.9" cy="1537.9" r="6.75"/><circle cx="1430.0" cy="1537.9" r="6.75"/><circle cx="1447.1" cy="1538.1" r="6.75"/><circle cx="1463.0" cy="1538.2" r="6.75"/><circle cx="1408.9" cy="1538.3" r="6.75"/><circle cx="1392.2" cy="1538.3" r="6.75"/><circle cx="1452.6" cy="1538.5" r="6.75"/><circle cx="1481.7" cy="1538.8" r="6.75"/><circle cx="2130.4" cy="1538.9" r="6.75"/><circle cx="1599.5" cy="1539.1" r="6.75"/><circle cx="1400.8" cy="1539.1" r="6.75"/><circle cx="1404.2" cy="1539.1" r="6.75"/><circle cx="1417.9" cy="1539.6" r="6.75"/><circle cx="1471.3" cy="1539.6" r="6.75"/><circle cx="1408.1" cy="1539.7" r="6.75"/><circle cx="1428.1" cy="1539.7" r="6.75"/><circle cx="1431.3" cy="1540.0" r="6.75"/><circle cx="1762.4" cy="1540.0" r="6.75"/><circle cx="2007.0" cy="1540.3" r="6.75"/><circle cx="1493.5" cy="1540.3" r="6.75"/><circle cx="1401.3" cy="1540.4" r="6.75"/><circle cx="1464.9" cy="1540.4" r="6.75"/><circle cx="1484.0" cy="1540.5" r="6.75"/><circle cx="1405.9" cy="1540.5" r="6.75"/><circle cx="1509.8" cy="1540.7" r="6.75"/><circle cx="1401.9" cy="1540.8" r="6.75"/><circle cx="1507.1" cy="1540.9" r="6.75"/><circle cx="1440.7" cy="1541.2" r="6.75"/><circle cx="1404.9" cy="1541.3" r="6.75"/><circle cx="1448.8" cy="1541.4" r="6.75"/><circle cx="1825.0" cy="1541.4" r="6.75"/><circle cx="1410.3" cy="1541.4" r="6.75"/><circle cx="1461.8" cy="1541.4" r="6.75"/><circle cx="1442.0" cy="1541.6" r="6.75"/><circle cx="1410.9" cy="1541.8" r="6.75"/><circle cx="1477.2" cy="1542.0" r="6.75"/><circle cx="1473.5" cy="1542.4" r="6.75"/><circle cx="2132.9" cy="1542.5" r="6.75"/><circle cx="1408.6" cy="1542.5" r="6.75"/><circle cx="1471.4" cy="1542.5" r="6.75"/><circle cx="1402.5" cy="1543.0" r="6.75"/><circle cx="1395.2" cy="1543.0" r="6.75"/><circle cx="1465.7" cy="1543.0" r="6.75"/><circle cx="1683.6" cy="1543.4" r="6.75"/><circle cx="1462.9" cy="1543.5" r="6.75"/><circle cx="1421.3" cy="1543.6" r="6.75"/><circle cx="1432.4" cy="1543.8" r="6.75"/><circle cx="1444.5" cy="1544.1" r="6.75"/><circle cx="1473.3" cy="1544.1" r="6.75"/><circle cx="1440.5" cy="1544.2" r="6.75"/><circle cx="1687.9" cy="1544.5" r="6.75"/><circle cx="1731.7" cy="1544.6" r="6.75"/><circle cx="1418.1" cy="1544.6" r="6.75"/><circle cx="1492.6" cy="1544.9" r="6.75"/><circle cx="1418.6" cy="1545.0" r="6.75"/><circle cx="1481.8" cy="1545.1" r="6.75"/><circle cx="1455.3" cy="1545.2" r="6.75"/><circle cx="1625.4" cy="1545.2" r="6.75"/><circle cx="1548.7" cy="1545.2" r="6.75"/><circle cx="1392.0" cy="1545.3" r="6.75"/><circle cx="1436.6" cy="1545.4" r="6.75"/><circle cx="1445.5" cy="1545.5" r="6.75"/><circle cx="1413.5" cy="1545.6" r="6.75"/><circle cx="1398.0" cy="1545.6" r="6.75"/><circle cx="1508.7" cy="1545.7" r="6.75"/><circle cx="1477.3" cy="1545.8" r="6.75"/><circle cx="1639.2" cy="1545.9" r="6.75"/><circle cx="1401.6" cy="1546.2" r="6.75"/><circle cx="1451.1" cy="1546.2" r="6.75"/><circle cx="1397.3" cy="1546.3" r="6.75"/><circle cx="1497.9" cy="1546.3" r="6.75"/><circle cx="1510.8" cy="1546.5" r="6.75"/><circle cx="1400.6" cy="1546.6" r="6.75"/><circle cx="1657.5" cy="1546.7" r="6.75"/><circle cx="1516.1" cy="1547.0" r="6.75"/><circle cx="1528.4" cy="1547.1" r="6.75"/><circle cx="1522.6" cy="1547.1" r="6.75"/><circle cx="1498.5" cy="1547.2" r="6.75"/><circle cx="1502.3" cy="1547.2" r="6.75"/><circle cx="1410.7" cy="1547.2" r="6.75"/><circle cx="1528.4" cy="1547.2" r="6.75"/><circle cx="1410.5" cy="1547.3" r="6.75"/><circle cx="1427.3" cy="1547.3" r="6.75"/><circle cx="1465.9" cy="1547.4" r="6.75"/><circle cx="1519.7" cy="1547.4" r="6.75"/><circle cx="1411.0" cy="1547.6" r="6.75"/><circle cx="1396.8" cy="1547.8" r="6.75"/><circle cx="1482.5" cy="1547.8" r="6.75"/><circle cx="1836.2" cy="1547.9" r="6.75"/><circle cx="1414.8" cy="1548.0" r="6.75"/><circle cx="1461.1" cy="1548.0" r="6.75"/><circle cx="1528.2" cy="1548.1" r="6.75"/><circle cx="1626.8" cy="1548.1" r="6.75"/><circle cx="1533.4" cy="1548.3" r="6.75"/><circle cx="1413.9" cy="1548.6" r="6.75"/><circle cx="1407.8" cy="1548.7" r="6.75"/><circle cx="1456.2" cy="1548.7" r="6.75"/><circle cx="1707.6" cy="1548.7" r="6.75"/><circle cx="1398.6" cy="1548.8" r="6.75"/><circle cx="1478.0" cy="1548.9" r="6.75"/><circle cx="1429.9" cy="1548.9" r="6.75"/><circle cx="1462.4" cy="1549.2" r="6.75"/><circle cx="1396.2" cy="1549.2" r="6.75"/><circle cx="1453.3" cy="1549.4" r="6.75"/><circle cx="1534.5" cy="1549.5" r="6.75"/><circle cx="1441.2" cy="1549.6" r="6.75"/><circle cx="1395.8" cy="1549.6" r="6.75"/><circle cx="1628.2" cy="1549.6" r="6.75"/><circle cx="1670.9" cy="1549.6" r="6.75"/><circle cx="1543.6" cy="1549.6" r="6.75"/><circle cx="1402.8" cy="1549.6" r="6.75"/><circle cx="1467.1" cy="1549.7" r="6.75"/><circle cx="1492.7" cy="1549.8" r="6.75"/><circle cx="1442.5" cy="1550.1" r="6.75"/><circle cx="1412.5" cy="1550.1" r="6.75"/><circle cx="1433.9" cy="1550.1" r="6.75"/><circle cx="1422.1" cy="1550.2" r="6.75"/><circle cx="1415.8" cy="1550.3" r="6.75"/><circle cx="1574.7" cy="1550.3" r="6.75"/><circle cx="1491.8" cy="1550.4" r="6.75"/><circle cx="1394.0" cy="1550.4" r="6.75"/><circle cx="1520.4" cy="1550.5" r="6.75"/><circle cx="1447.6" cy="1550.5" r="6.75"/><circle cx="1499.8" cy="1550.5" r="6.75"/><circle cx="1518.6" cy="1550.6" r="6.75"/><circle cx="1392.6" cy="1550.6" r="6.75"/><circle cx="1416.5" cy="1550.7" r="6.75"/><circle cx="1517.5" cy="1550.8" r="6.75"/><circle cx="1512.2" cy="1550.8" r="6.75"/><circle cx="1511.9" cy="1550.8" r="6.75"/><circle cx="1400.2" cy="1550.9" r="6.75"/><circle cx="1454.6" cy="1551.0" r="6.75"/><circle cx="1568.9" cy="1551.0" r="6.75"/><circle cx="1395.0" cy="1551.0" r="6.75"/><circle cx="1394.8" cy="1551.1" r="6.75"/><circle cx="1436.3" cy="1551.2" r="6.75"/><circle cx="1423.4" cy="1551.2" r="6.75"/><circle cx="1487.4" cy="1551.4" r="6.75"/><circle cx="1490.4" cy="1551.5" r="6.75"/><circle cx="1489.4" cy="1551.7" r="6.75"/><circle cx="1457.8" cy="1551.7" r="6.75"/><circle cx="1519.1" cy="1551.7" r="6.75"/><circle cx="1414.2" cy="1551.8" r="6.75"/><circle cx="1525.9" cy="1551.8" r="6.75"/><circle cx="1460.5" cy="1551.8" r="6.75"/><circle cx="1472.4" cy="1551.8" r="6.75"/><circle cx="1486.3" cy="1551.9" r="6.75"/><circle cx="1474.7" cy="1551.9" r="6.75"/><circle cx="1474.3" cy="1551.9" r="6.75"/><circle cx="1486.3" cy="1552.2" r="6.75"/><circle cx="1538.0" cy="1552.3" r="6.75"/><circle cx="1472.9" cy="1552.6" r="6.75"/><circle cx="1428.2" cy="1552.7" r="6.75"/><circle cx="1524.6" cy="1552.9" r="6.75"/><circle cx="1508.9" cy="1553.1" r="6.75"/><circle cx="1408.5" cy="1553.2" r="6.75"/><circle cx="1405.3" cy="1553.2" r="6.75"/><circle cx="1541.4" cy="1553.2" r="6.75"/><circle cx="1537.2" cy="1553.2" r="6.75"/><circle cx="1468.4" cy="1553.2" r="6.75"/><circle cx="1462.1" cy="1553.3" r="6.75"/><circle cx="1515.8" cy="1553.4" r="6.75"/><circle cx="1442.3" cy="1553.4" r="6.75"/><circle cx="1422.3" cy="1553.4" r="6.75"/><circle cx="1534.6" cy="1553.4" r="6.75"/><circle cx="1406.4" cy="1553.5" r="6.75"/><circle cx="1532.5" cy="1553.8" r="6.75"/><circle cx="1404.3" cy="1553.8" r="6.75"/><circle cx="1483.7" cy="1553.8" r="6.75"/><circle cx="1510.0" cy="1553.9" r="6.75"/><circle cx="1435.5" cy="1554.0" r="6.75"/><circle cx="1412.9" cy="1554.1" r="6.75"/><circle cx="1393.2" cy="1554.1" r="6.75"/><circle cx="1454.1" cy="1554.1" r="6.75"/><circle cx="1435.3" cy="1554.2" r="6.75"/><circle cx="1645.6" cy="1554.3" r="6.75"/><circle cx="1463.2" cy="1554.4" r="6.75"/><circle cx="1534.8" cy="1554.4" r="6.75"/><circle cx="1399.9" cy="1554.4" r="6.75"/><circle cx="1461.4" cy="1554.4" r="6.75"/><circle cx="1473.1" cy="1554.5" r="6.75"/><circle cx="1489.3" cy="1554.6" r="6.75"/><circle cx="1420.6" cy="1554.6" r="6.75"/><circle cx="1515.9" cy="1554.6" r="6.75"/><circle cx="1520.3" cy="1554.9" r="6.75"/><circle cx="1572.8" cy="1555.0" r="6.75"/><circle cx="1426.6" cy="1555.2" r="6.75"/><circle cx="1529.4" cy="1555.3" r="6.75"/><circle cx="1427.6" cy="1555.3" r="6.75"/><circle cx="1547.2" cy="1555.4" r="6.75"/><circle cx="1561.7" cy="1555.4" r="6.75"/><circle cx="1572.5" cy="1555.4" r="6.75"/><circle cx="1608.7" cy="1555.4" r="6.75"/><circle cx="1419.9" cy="1555.4" r="6.75"/><circle cx="1526.3" cy="1555.5" r="6.75"/><circle cx="1758.3" cy="1555.5" r="6.75"/><circle cx="1445.9" cy="1555.5" r="6.75"/><circle cx="1472.6" cy="1555.6" r="6.75"/><circle cx="1452.7" cy="1555.7" r="6.75"/><circle cx="1464.3" cy="1555.8" r="6.75"/><circle cx="1576.4" cy="1556.0" r="6.75"/><circle cx="1700.0" cy="1556.0" r="6.75"/><circle cx="1622.1" cy="1556.1" r="6.75"/><circle cx="1558.1" cy="1556.1" r="6.75"/><circle cx="1602.2" cy="1556.1" r="6.75"/><circle cx="1472.8" cy="1556.4" r="6.75"/><circle cx="1657.2" cy="1556.4" r="6.75"/><circle cx="1543.9" cy="1556.5" r="6.75"/><circle cx="1472.0" cy="1556.5" r="6.75"/><circle cx="1526.3" cy="1556.5" r="6.75"/><circle cx="1396.8" cy="1556.6" r="6.75"/><circle cx="1411.6" cy="1556.6" r="6.75"/><circle cx="1391.1" cy="1556.7" r="6.75"/><circle cx="1551.6" cy="1556.8" r="6.75"/><circle cx="1577.6" cy="1556.8" r="6.75"/><circle cx="1546.1" cy="1556.9" r="6.75"/><circle cx="1483.0" cy="1557.2" r="6.75"/><circle cx="1502.1" cy="1557.3" r="6.75"/><circle cx="1598.5" cy="1557.3" r="6.75"/><circle cx="1415.3" cy="1557.4" r="6.75"/><circle cx="1438.5" cy="1557.4" r="6.75"/><circle cx="1413.1" cy="1557.4" r="6.75"/><circle cx="1582.0" cy="1557.5" r="6.75"/><circle cx="1410.2" cy="1557.5" r="6.75"/><circle cx="1466.6" cy="1557.7" r="6.75"/><circle cx="1537.0" cy="1557.7" r="6.75"/><circle cx="1501.2" cy="1557.7" r="6.75"/><circle cx="1512.7" cy="1557.7" r="6.75"/><circle cx="1516.3" cy="1557.8" r="6.75"/><circle cx="1440.8" cy="1557.9" r="6.75"/><circle cx="1444.4" cy="1558.0" r="6.75"/><circle cx="1412.5" cy="1558.0" r="6.75"/><circle cx="1604.7" cy="1558.1" r="6.75"/><circle cx="1589.2" cy="1558.2" r="6.75"/><circle cx="1565.3" cy="1558.2" r="6.75"/><circle cx="1594.2" cy="1558.3" r="6.75"/><circle cx="1415.7" cy="1558.5" r="6.75"/><circle cx="1402.2" cy="1558.6" r="6.75"/><circle cx="1423.9" cy="1558.6" r="6.75"/><circle cx="1531.2" cy="1558.8" r="6.75"/><circle cx="1395.8" cy="1558.9" r="6.75"/><circle cx="1399.3" cy="1558.9" r="6.75"/><circle cx="1652.8" cy="1559.0" r="6.75"/><circle cx="1661.5" cy="1559.0" r="6.75"/><circle cx="1607.3" cy="1559.0" r="6.75"/><circle cx="1570.4" cy="1559.0" r="6.75"/><circle cx="1542.2" cy="1559.0" r="6.75"/><circle cx="1441.4" cy="1559.0" r="6.75"/><circle cx="1435.8" cy="1559.0" r="6.75"/><circle cx="1448.6" cy="1559.2" r="6.75"/><circle cx="1486.7" cy="1559.3" r="6.75"/><circle cx="1532.2" cy="1559.4" r="6.75"/><circle cx="1552.7" cy="1559.5" r="6.75"/><circle cx="1575.4" cy="1559.7" r="6.75"/><circle cx="1443.2" cy="1559.8" r="6.75"/><circle cx="1418.8" cy="1559.9" r="6.75"/><circle cx="1509.4" cy="1559.9" r="6.75"/><circle cx="1539.5" cy="1560.0" r="6.75"/><circle cx="1599.8" cy="1560.0" r="6.75"/><circle cx="1523.6" cy="1560.2" r="6.75"/><circle cx="1550.4" cy="1560.3" r="6.75"/><circle cx="1421.3" cy="1560.3" r="6.75"/><circle cx="1601.5" cy="1560.4" r="6.75"/><circle cx="1590.7" cy="1560.4" r="6.75"/><circle cx="1443.7" cy="1560.6" r="6.75"/><circle cx="1421.3" cy="1560.8" r="6.75"/><circle cx="1517.3" cy="1560.8" r="6.75"/><circle cx="1604.4" cy="1560.8" r="6.75"/><circle cx="1395.3" cy="1560.8" r="6.75"/><circle cx="1511.0" cy="1561.0" r="6.75"/><circle cx="1438.9" cy="1561.0" r="6.75"/><circle cx="1587.2" cy="1561.1" r="6.75"/><circle cx="1434.0" cy="1561.4" r="6.75"/><circle cx="1579.0" cy="1561.4" r="6.75"/><circle cx="1613.7" cy="1561.4" r="6.75"/><circle cx="1487.5" cy="1561.5" r="6.75"/><circle cx="1413.9" cy="1561.9" r="6.75"/><circle cx="1393.2" cy="1561.9" r="6.75"/></g>
<path d="M806 1568.4H1668" stroke="#999" stroke-width="13.5" stroke-linecap="round" fill="none"/>
<g class="g"><circle cx="845.0" cy="1567.5" r="6.75"/><circle cx="850.1" cy="1567.0" r="6.75"/><circle cx="854.0" cy="1567.9" r="6.75"/><circle cx="860.2" cy="1567.9" r="6.75"/><circle cx="866.5" cy="1567.7" r="6.75"/><circle cx="872.3" cy="1567.8" r="6.75"/><circle cx="875.2" cy="1567.7" r="6.75"/><circle cx="881.5" cy="1567.6" r="6.75"/><circle cx="887.6" cy="1567.6" r="6.75"/><circle cx="894.3" cy="1567.3" r="6.75"/><circle cx="897.6" cy="1566.9" r="6.75"/><circle cx="900.8" cy="1567.5" r="6.75"/><circle cx="904.7" cy="1566.8" r="6.75"/><circle cx="907.6" cy="1567.2" r="6.75"/><circle cx="910.3" cy="1567.8" r="6.75"/><circle cx="915.4" cy="1566.9" r="6.75"/><circle cx="920.1" cy="1567.2" r="6.75"/><circle cx="923.1" cy="1566.9" r="6.75"/><circle cx="927.8" cy="1567.7" r="6.75"/><circle cx="930.5" cy="1567.5" r="6.75"/><circle cx="932.9" cy="1567.0" r="6.75"/><circle cx="938.2" cy="1566.7" r="6.75"/><circle cx="940.6" cy="1567.8" r="6.75"/><circle cx="945.3" cy="1566.9" r="6.75"/><circle cx="947.4" cy="1567.1" r="6.75"/><circle cx="952.4" cy="1567.4" r="6.75"/><circle cx="954.8" cy="1567.9" r="6.75"/><circle cx="959.8" cy="1567.4" r="6.75"/><circle cx="964.4" cy="1567.0" r="6.75"/><circle cx="968.4" cy="1566.4" r="6.75"/><circle cx="972.5" cy="1566.5" r="6.75"/><circle cx="979.5" cy="1567.6" r="6.75"/><circle cx="985.3" cy="1566.8" r="6.75"/><circle cx="990.5" cy="1567.7" r="6.75"/><circle cx="997.3" cy="1566.7" r="6.75"/><circle cx="1000.4" cy="1567.8" r="6.75"/><circle cx="1005.2" cy="1567.5" r="6.75"/><circle cx="1011.1" cy="1567.8" r="6.75"/><circle cx="1014.2" cy="1567.8" r="6.75"/><circle cx="1018.4" cy="1567.1" r="6.75"/><circle cx="1023.9" cy="1567.6" r="6.75"/><circle cx="1030.9" cy="1565.6" r="6.75"/><circle cx="1036.9" cy="1567.9" r="6.75"/><circle cx="1041.4" cy="1566.8" r="6.75"/><circle cx="1048.1" cy="1567.3" r="6.75"/><circle cx="1050.2" cy="1567.8" r="6.75"/><circle cx="1054.5" cy="1567.3" r="6.75"/><circle cx="1057.1" cy="1567.9" r="6.75"/><circle cx="1061.5" cy="1567.6" r="6.75"/><circle cx="1065.7" cy="1567.8" r="6.75"/><circle cx="1069.5" cy="1567.0" r="6.75"/><circle cx="1073.4" cy="1568.0" r="6.75"/><circle cx="1076.1" cy="1567.0" r="6.75"/><circle cx="1082.9" cy="1567.9" r="6.75"/><circle cx="1086.3" cy="1567.6" r="6.75"/><circle cx="1092.0" cy="1567.4" r="6.75"/><circle cx="1096.5" cy="1568.0" r="6.75"/><circle cx="1099.2" cy="1567.9" r="6.75"/><circle cx="1102.2" cy="1567.5" r="6.75"/><circle cx="1106.1" cy="1567.4" r="6.75"/><circle cx="1112.9" cy="1567.0" r="6.75"/><circle cx="1119.8" cy="1567.6" r="6.75"/><circle cx="1125.0" cy="1566.8" r="6.75"/><circle cx="1128.6" cy="1567.2" r="6.75"/><circle cx="1130.8" cy="1567.0" r="6.75"/><circle cx="1135.7" cy="1567.7" r="6.75"/><circle cx="1138.1" cy="1568.0" r="6.75"/><circle cx="1143.3" cy="1567.2" r="6.75"/><circle cx="1146.7" cy="1567.3" r="6.75"/><circle cx="1150.1" cy="1567.6" r="6.75"/><circle cx="1156.5" cy="1567.9" r="6.75"/><circle cx="1161.0" cy="1567.4" r="6.75"/><circle cx="1167.9" cy="1567.6" r="6.75"/><circle cx="1173.9" cy="1567.6" r="6.75"/><circle cx="1176.2" cy="1566.8" r="6.75"/><circle cx="1181.8" cy="1567.3" r="6.75"/><circle cx="1187.8" cy="1566.8" r="6.75"/><circle cx="1191.6" cy="1566.9" r="6.75"/><circle cx="1197.6" cy="1566.3" r="6.75"/><circle cx="1202.0" cy="1567.7" r="6.75"/><circle cx="1205.3" cy="1567.5" r="6.75"/><circle cx="1207.6" cy="1567.2" r="6.75"/><circle cx="1210.4" cy="1567.3" r="6.75"/><circle cx="1216.7" cy="1567.3" r="6.75"/><circle cx="1219.4" cy="1567.1" r="6.75"/><circle cx="1222.0" cy="1567.9" r="6.75"/><circle cx="1225.3" cy="1566.9" r="6.75"/><circle cx="1229.8" cy="1567.4" r="6.75"/><circle cx="1234.9" cy="1566.7" r="6.75"/><circle cx="1239.9" cy="1566.5" r="6.75"/><circle cx="1242.1" cy="1567.7" r="6.75"/><circle cx="1245.3" cy="1567.7" r="6.75"/><circle cx="1248.0" cy="1566.9" r="6.75"/><circle cx="1252.3" cy="1567.9" r="6.75"/><circle cx="1256.7" cy="1567.2" r="6.75"/><circle cx="1261.3" cy="1567.0" r="6.75"/><circle cx="1264.9" cy="1567.1" r="6.75"/><circle cx="1271.5" cy="1566.4" r="6.75"/><circle cx="1278.4" cy="1567.3" r="6.75"/><circle cx="1282.7" cy="1567.7" r="6.75"/><circle cx="1286.0" cy="1567.9" r="6.75"/><circle cx="1288.7" cy="1566.3" r="6.75"/><circle cx="1293.2" cy="1566.4" r="6.75"/><circle cx="1297.4" cy="1567.7" r="6.75"/><circle cx="1300.0" cy="1567.1" r="6.75"/><circle cx="1305.9" cy="1567.7" r="6.75"/><circle cx="1308.8" cy="1567.6" r="6.75"/><circle cx="1310.9" cy="1565.7" r="6.75"/><circle cx="1315.9" cy="1566.9" r="6.75"/><circle cx="1320.0" cy="1567.3" r="6.75"/><circle cx="1326.7" cy="1567.7" r="6.75"/><circle cx="1329.8" cy="1566.4" r="6.75"/><circle cx="1332.1" cy="1567.7" r="6.75"/><circle cx="1336.0" cy="1567.8" r="6.75"/><circle cx="1342.9" cy="1567.2" r="6.75"/><circle cx="1345.0" cy="1567.0" r="6.75"/><circle cx="1349.6" cy="1567.6" r="6.75"/><circle cx="1354.5" cy="1567.9" r="6.75"/><circle cx="1358.7" cy="1567.3" r="6.75"/><circle cx="1364.2" cy="1566.7" r="6.75"/><circle cx="1366.8" cy="1567.8" r="6.75"/><circle cx="1370.1" cy="1567.8" r="6.75"/><circle cx="1375.3" cy="1565.9" r="6.75"/><circle cx="1381.6" cy="1567.6" r="6.75"/><circle cx="1384.2" cy="1567.6" r="6.75"/><circle cx="1388.6" cy="1566.7" r="6.75"/><circle cx="1395.6" cy="1567.7" r="6.75"/><circle cx="1398.7" cy="1567.8" r="6.75"/><circle cx="1401.3" cy="1567.1" r="6.75"/><circle cx="1407.6" cy="1567.3" r="6.75"/><circle cx="1409.6" cy="1565.9" r="6.75"/><circle cx="1413.0" cy="1567.9" r="6.75"/><circle cx="1416.3" cy="1567.7" r="6.75"/><circle cx="1422.2" cy="1567.7" r="6.75"/><circle cx="1428.7" cy="1567.0" r="6.75"/><circle cx="1430.8" cy="1567.6" r="6.75"/><circle cx="1435.8" cy="1567.0" r="6.75"/><circle cx="1440.4" cy="1567.1" r="6.75"/><circle cx="1442.9" cy="1567.8" r="6.75"/><circle cx="1445.3" cy="1566.9" r="6.75"/><circle cx="1447.9" cy="1568.0" r="6.75"/><circle cx="1452.6" cy="1566.6" r="6.75"/><circle cx="1456.4" cy="1567.0" r="6.75"/><circle cx="1459.6" cy="1567.8" r="6.75"/><circle cx="1464.4" cy="1567.5" r="6.75"/><circle cx="1468.6" cy="1567.4" r="6.75"/><circle cx="1473.5" cy="1566.9" r="6.75"/><circle cx="1476.4" cy="1567.9" r="6.75"/><circle cx="1481.3" cy="1567.6" r="6.75"/><circle cx="1486.9" cy="1567.2" r="6.75"/><circle cx="1489.0" cy="1567.3" r="6.75"/><circle cx="1494.0" cy="1568.0" r="6.75"/><circle cx="1500.1" cy="1566.9" r="6.75"/><circle cx="1503.5" cy="1567.8" r="6.75"/><circle cx="1506.8" cy="1567.0" r="6.75"/><circle cx="1509.9" cy="1567.9" r="6.75"/><circle cx="1515.7" cy="1567.3" r="6.75"/><circle cx="1519.0" cy="1568.0" r="6.75"/><circle cx="1525.2" cy="1566.5" r="6.75"/><circle cx="1528.4" cy="1566.9" r="6.75"/><circle cx="1530.8" cy="1567.9" r="6.75"/><circle cx="1537.1" cy="1567.9" r="6.75"/><circle cx="1542.4" cy="1567.6" r="6.75"/><circle cx="1547.9" cy="1567.3" r="6.75"/><circle cx="1550.7" cy="1567.1" r="6.75"/><circle cx="1556.1" cy="1566.9" r="6.75"/><circle cx="1561.0" cy="1567.6" r="6.75"/><circle cx="1564.3" cy="1567.7" r="6.75"/><circle cx="1566.4" cy="1567.3" r="6.75"/><circle cx="1573.1" cy="1567.2" r="6.75"/><circle cx="1577.8" cy="1567.2" r="6.75"/><circle cx="1582.4" cy="1567.6" r="6.75"/><circle cx="1585.8" cy="1566.2" r="6.75"/><circle cx="1590.3" cy="1567.6" r="6.75"/><circle cx="1592.3" cy="1567.7" r="6.75"/><circle cx="1597.4" cy="1567.6" r="6.75"/><circle cx="1601.9" cy="1566.2" r="6.75"/><circle cx="1607.7" cy="1567.7" r="6.75"/><circle cx="1610.2" cy="1566.8" r="6.75"/><circle cx="1615.2" cy="1567.8" r="6.75"/><circle cx="1620.4" cy="1567.8" r="6.75"/><circle cx="1624.7" cy="1568.0" r="6.75"/><circle cx="1630.9" cy="1567.8" r="6.75"/><circle cx="1633.5" cy="1567.9" r="6.75"/><circle cx="1640.0" cy="1567.5" r="6.75"/><circle cx="1645.5" cy="1567.9" r="6.75"/><circle cx="1652.2" cy="1567.2" r="6.75"/><circle cx="1658.2" cy="1567.1" r="6.75"/><circle cx="1660.6" cy="1566.6" r="6.75"/><circle cx="1664.3" cy="1567.7" r="6.75"/><circle cx="1667.1" cy="1567.2" r="6.75"/><circle cx="762.0" cy="1568.4" r="6.75"/><circle cx="768.0" cy="1568.4" r="6.75"/><circle cx="777.0" cy="1568.4" r="6.75"/><circle cx="781.0" cy="1568.4" r="6.75"/><circle cx="785.0" cy="1568.4" r="6.75"/><circle cx="787.0" cy="1568.4" r="6.75"/><circle cx="790.0" cy="1568.4" r="6.75"/><circle cx="793.0" cy="1568.4" r="6.75"/><circle cx="796.0" cy="1568.4" r="6.75"/><circle cx="798.0" cy="1568.4" r="6.75"/><circle cx="800.0" cy="1568.4" r="6.75"/><circle cx="803.0" cy="1568.4" r="6.75"/></g>
<g class="dl">
<path d="M1137.0 1641.3V39.3"/>
<path d="M1389.8 1641.3V39.3"/>
<path d="M190.3 1562.1H2359.0"/>
</g>
<g class="seg"><path d="M1596.6 83.2L1610.0 80.6"/><path d="M1702.0 104.0L1706.9 88.0"/><path d="M1472.2 188.5L1462.8 195.3"/><path d="M1489.2 286.0L1500.7 313.4"/><path d="M1829.9 465.5L1817.4 492.9"/><path d="M1588.9 532.6L1567.3 550.3"/><path d="M1577.7 614.5L1557.0 642.0"/><path d="M1644.0 690.6L1662.3 691.7"/><path d="M1647.6 781.2L1691.3 808.0"/><path d="M1774.6 878.8L1783.4 885.1"/><path d="M1918.6 889.4L1903.0 917.6"/><path d="M1826.4 930.7L1802.1 953.9"/><path d="M1847.5 1081.7L1869.1 1099.9"/></g>
<g class="lab"><text x="1507.8" y="96.9">Lrrc2</text><text x="1649.1" y="136.5">Pcolce2</text><text x="1459.3" y="181.0">Gnb3</text><text x="1507.8" y="334.7">Stat3</text><text x="1838.4" y="470.6">Lad1</text><text x="1543.6" y="524.0">Gm15983</text><text x="1585.6" y="618.9">Btc</text><text x="1670.5" y="704.4">Gadd45b</text><text x="1568.5" y="789.8">Fgf2</text><text x="1699.4" y="871.3">Tnnt2</text><text x="1927.5" y="893.8">Bcl3</text><text x="1700.8" y="987.4">Serpina3n</text><text x="1775.3" y="1133.0">2900057B20Rik</text></g>
<rect x="1714.6" y="73.5" width="640" height="250" fill="#fff"/>
<text class="lt" x="1734.4" y="127.9">Significance</text>
<g class="g"><circle cx="1757.9" cy="178.4" r="6.75"/></g>
<text class="le" x="1804.0" y="191.8">No Significant Change</text>
<g class="b"><circle cx="1757.9" cy="225.6" r="6.75"/></g>
<text class="le" x="1804.0" y="239.0">Significantly Down-Regulated</text>
<g class="r"><circle cx="1757.9" cy="272.9" r="6.75"/></g>
<text class="le" x="1804.0" y="286.3">Significantly Up-Regulated</text>
<g class="ax">
<path d="M190.3 39.3V1641.3H2360.7"/>
<path d="M190.3 1568.3H172.7"/>
<path d="M190.3 1083.6H172.7"/>
<path d="M190.3 598.9H172.7"/>
<path d="M190.3 114.2H172.7"/>
<path d="M631.3 1641.3V1658.9"/>
<path d="M1263.3 1641.3V1658.9"/>
<path d="M1895.3 1641.3V1658.9"/>
</g>
<g class="at">
<text transform="translate(163.6 1583.2) scale(1 1.04)" text-anchor="end">0</text>
<text transform="translate(163.6 1098.5) scale(1 1.04)" text-anchor="end">100</text>
<text transform="translate(163.6 613.8) scale(1 1.04)" text-anchor="end">200</text>
<text transform="translate(163.6 129.1) scale(1 1.04)" text-anchor="end">300</text>
<text transform="translate(631.3 1697.5) scale(1 1.04)" text-anchor="middle">-5</text>
<text transform="translate(1263.3 1697.5) scale(1 1.04)" text-anchor="middle">0</text>
<text transform="translate(1895.3 1697.5) scale(1 1.04)" text-anchor="middle">5</text>
</g>
<text class="ti" x="1274.7" y="1748.8" text-anchor="middle">Log2 Fold-Change</text>
<text class="ti" transform="translate(73.2 841.3) rotate(-90)" text-anchor="middle">-log10(Padj)</text>
</svg></body></html>
